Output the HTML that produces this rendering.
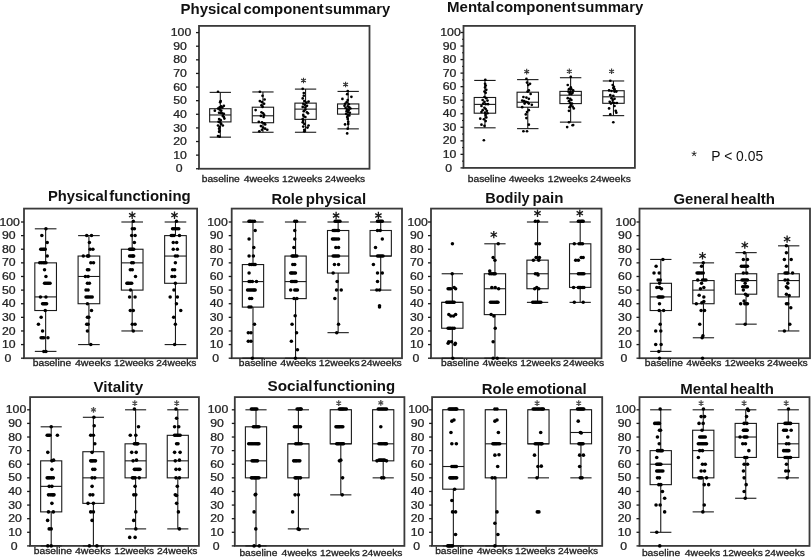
<!DOCTYPE html>
<html><head><meta charset="utf-8"><style>
html,body{margin:0;padding:0;background:#fff;}
svg{display:block;filter:grayscale(1) blur(0.3px);}
text{font-family:"Liberation Sans", sans-serif;fill:#111;}
.yl{font-size:10.4px;text-anchor:middle;fill:#222;stroke:#222;stroke-width:0.25px;}
.xl{font-size:9.3px;fill:#222;stroke:#222;stroke-width:0.3px;}
.ln{stroke:#1a1a1a;stroke-width:1.1;}
circle{fill:#000;}
</style></head><body>
<svg width="811" height="557" viewBox="0 0 811 557">
<rect width="811" height="557" fill="#fff"/>
<text x="180.5" y="13.7" font-size="15.4" font-weight="bold" textLength="60.8" lengthAdjust="spacingAndGlyphs">Physical</text>
<text x="243.4" y="13.7" font-size="15.4" font-weight="bold" textLength="80.3" lengthAdjust="spacingAndGlyphs">component</text>
<text x="324.8" y="13.7" font-size="15.4" font-weight="bold" textLength="65.3" lengthAdjust="spacingAndGlyphs">summary</text>
<rect x="199" y="25.9" width="170.5" height="142.85" fill="none" stroke="#3a3a3a" stroke-width="1.8"/>
<line x1="196" y1="168.75" x2="199" y2="168.75" stroke="#1a1a1a" stroke-width="1.3"/>
<text class="yl" transform="translate(179.2,172.35) scale(1.18,1)">0</text>
<line x1="196" y1="155.13" x2="199" y2="155.13" stroke="#1a1a1a" stroke-width="1.3"/>
<text class="yl" transform="translate(180.1,158.73) scale(1.18,1)">10</text>
<line x1="196" y1="141.52" x2="199" y2="141.52" stroke="#1a1a1a" stroke-width="1.3"/>
<text class="yl" transform="translate(180.1,145.12) scale(1.18,1)">20</text>
<line x1="196" y1="127.91" x2="199" y2="127.91" stroke="#1a1a1a" stroke-width="1.3"/>
<text class="yl" transform="translate(180.1,131.5) scale(1.18,1)">30</text>
<line x1="196" y1="114.29" x2="199" y2="114.29" stroke="#1a1a1a" stroke-width="1.3"/>
<text class="yl" transform="translate(180.1,117.89) scale(1.18,1)">40</text>
<line x1="196" y1="100.67" x2="199" y2="100.67" stroke="#1a1a1a" stroke-width="1.3"/>
<text class="yl" transform="translate(180.1,104.27) scale(1.18,1)">50</text>
<line x1="196" y1="87.06" x2="199" y2="87.06" stroke="#1a1a1a" stroke-width="1.3"/>
<text class="yl" transform="translate(180.1,90.66) scale(1.18,1)">60</text>
<line x1="196" y1="73.44" x2="199" y2="73.44" stroke="#1a1a1a" stroke-width="1.3"/>
<text class="yl" transform="translate(180.1,77.04) scale(1.18,1)">70</text>
<line x1="196" y1="59.83" x2="199" y2="59.83" stroke="#1a1a1a" stroke-width="1.3"/>
<text class="yl" transform="translate(180.1,63.43) scale(1.18,1)">80</text>
<line x1="196" y1="46.21" x2="199" y2="46.21" stroke="#1a1a1a" stroke-width="1.3"/>
<text class="yl" transform="translate(180.1,49.81) scale(1.18,1)">90</text>
<line x1="196" y1="32.6" x2="199" y2="32.6" stroke="#1a1a1a" stroke-width="1.3"/>
<text class="yl" transform="translate(181,36.2) scale(1.18,1)">100</text>
<text class="xl" transform="translate(201.7,181.5) scale(1,1.0)" textLength="38.1" lengthAdjust="spacingAndGlyphs">baseline</text>
<text class="xl" transform="translate(243.7,181.5) scale(1,1.0)" textLength="35.6" lengthAdjust="spacingAndGlyphs">4weeks</text>
<text class="xl" transform="translate(282.1,181.5) scale(1,1.0)" textLength="40.2" lengthAdjust="spacingAndGlyphs">12weeks</text>
<text class="xl" transform="translate(324.9,181.5) scale(1,1.0)" textLength="40.3" lengthAdjust="spacingAndGlyphs">24weeks</text>
<line x1="220.31" y1="92.37" x2="220.31" y2="137.16" class="ln"/>
<line x1="209.66" y1="92.37" x2="230.97" y2="92.37" class="ln"/>
<line x1="209.66" y1="137.16" x2="230.97" y2="137.16" class="ln"/>
<rect x="209.66" y="108.71" width="21.31" height="13.21" fill="#fff" class="ln"/>
<line x1="209.66" y1="114.97" x2="230.97" y2="114.97" class="ln"/>
<circle cx="218.03" cy="91.74" r="1.35"/>
<circle cx="220.68" cy="101.08" r="1.35"/>
<circle cx="220.15" cy="102.15" r="1.35"/>
<circle cx="223.86" cy="105.86" r="1.35"/>
<circle cx="221.21" cy="106.39" r="1.35"/>
<circle cx="219.62" cy="107.46" r="1.35"/>
<circle cx="222.27" cy="107.46" r="1.35"/>
<circle cx="218.03" cy="108.52" r="1.35"/>
<circle cx="219.62" cy="109.58" r="1.35"/>
<circle cx="221.21" cy="110.64" r="1.35"/>
<circle cx="214.85" cy="110.64" r="1.35"/>
<circle cx="219.09" cy="112.77" r="1.35"/>
<circle cx="220.68" cy="112.97" r="1.35"/>
<circle cx="222.27" cy="113.3" r="1.35"/>
<circle cx="223.86" cy="113.83" r="1.35"/>
<circle cx="222.8" cy="115.95" r="1.35"/>
<circle cx="223.86" cy="117.01" r="1.35"/>
<circle cx="224.39" cy="118.59" r="1.35"/>
<circle cx="219.09" cy="119.12" r="1.35"/>
<circle cx="220.68" cy="120.19" r="1.35"/>
<circle cx="218.56" cy="121.78" r="1.35"/>
<circle cx="220.15" cy="122.31" r="1.35"/>
<circle cx="221.21" cy="123.9" r="1.35"/>
<circle cx="222.8" cy="125.5" r="1.35"/>
<circle cx="218.03" cy="125.5" r="1.35"/>
<circle cx="219.62" cy="127.09" r="1.35"/>
<circle cx="219.09" cy="128.68" r="1.35"/>
<circle cx="219.62" cy="130.8" r="1.35"/>
<circle cx="219.09" cy="131.87" r="1.35"/>
<circle cx="218.03" cy="136.11" r="1.35"/>
<circle cx="219.62" cy="136.65" r="1.35"/>
<line x1="262.94" y1="91.96" x2="262.94" y2="132.26" class="ln"/>
<line x1="252.28" y1="91.96" x2="273.59" y2="91.96" class="ln"/>
<line x1="252.28" y1="132.26" x2="273.59" y2="132.26" class="ln"/>
<rect x="252.28" y="107.21" width="21.31" height="15.52" fill="#fff" class="ln"/>
<line x1="252.28" y1="115.79" x2="273.59" y2="115.79" class="ln"/>
<circle cx="259.86" cy="91.74" r="1.35"/>
<circle cx="262.52" cy="95.77" r="1.35"/>
<circle cx="264.64" cy="99.49" r="1.35"/>
<circle cx="259.86" cy="101.08" r="1.35"/>
<circle cx="261.99" cy="102.15" r="1.35"/>
<circle cx="264.11" cy="103.74" r="1.35"/>
<circle cx="261.46" cy="105.33" r="1.35"/>
<circle cx="262.52" cy="106.92" r="1.35"/>
<circle cx="255.62" cy="110.11" r="1.35"/>
<circle cx="261.46" cy="112.23" r="1.35"/>
<circle cx="263.05" cy="113.3" r="1.35"/>
<circle cx="264.11" cy="114.89" r="1.35"/>
<circle cx="260.93" cy="115.95" r="1.35"/>
<circle cx="263.58" cy="117.01" r="1.35"/>
<circle cx="258.8" cy="121.78" r="1.35"/>
<circle cx="261.99" cy="122.31" r="1.35"/>
<circle cx="264.11" cy="123.37" r="1.35"/>
<circle cx="265.17" cy="124.43" r="1.35"/>
<circle cx="260.93" cy="126.03" r="1.35"/>
<circle cx="263.05" cy="127.62" r="1.35"/>
<circle cx="265.17" cy="128.68" r="1.35"/>
<circle cx="267.29" cy="129.74" r="1.35"/>
<circle cx="261.99" cy="129.74" r="1.35"/>
<circle cx="259.33" cy="131.34" r="1.35"/>
<line x1="305.56" y1="89.1" x2="305.56" y2="132.26" class="ln"/>
<line x1="294.91" y1="89.1" x2="316.22" y2="89.1" class="ln"/>
<line x1="294.91" y1="132.26" x2="316.22" y2="132.26" class="ln"/>
<rect x="294.91" y="103.13" width="21.31" height="16.2" fill="#fff" class="ln"/>
<line x1="294.91" y1="109.12" x2="316.22" y2="109.12" class="ln"/>
<circle cx="302.72" cy="88.87" r="1.35"/>
<circle cx="303.78" cy="93.12" r="1.35"/>
<circle cx="303.78" cy="95.77" r="1.35"/>
<circle cx="302.72" cy="98.43" r="1.35"/>
<circle cx="304.31" cy="101.08" r="1.35"/>
<circle cx="308.55" cy="101.61" r="1.35"/>
<circle cx="306.43" cy="102.68" r="1.35"/>
<circle cx="303.25" cy="103.74" r="1.35"/>
<circle cx="304.84" cy="104.8" r="1.35"/>
<circle cx="306.96" cy="105.86" r="1.35"/>
<circle cx="302.72" cy="106.92" r="1.35"/>
<circle cx="305.37" cy="107.46" r="1.35"/>
<circle cx="305.37" cy="109.58" r="1.35"/>
<circle cx="303.78" cy="111.17" r="1.35"/>
<circle cx="306.96" cy="112.23" r="1.35"/>
<circle cx="308.02" cy="113.3" r="1.35"/>
<circle cx="303.25" cy="114.89" r="1.35"/>
<circle cx="303.78" cy="116.48" r="1.35"/>
<circle cx="305.37" cy="117.01" r="1.35"/>
<circle cx="302.72" cy="119.12" r="1.35"/>
<circle cx="303.25" cy="120.72" r="1.35"/>
<circle cx="302.72" cy="122.31" r="1.35"/>
<circle cx="304.31" cy="123.9" r="1.35"/>
<circle cx="303.25" cy="126.56" r="1.35"/>
<circle cx="308.55" cy="125.5" r="1.35"/>
<circle cx="307.49" cy="127.62" r="1.35"/>
<circle cx="304.31" cy="129.74" r="1.35"/>
<circle cx="304.31" cy="131.34" r="1.35"/>
<path d="M303.5 83.3L303.5 77.7M301.08 81.9L305.92 79.1M301.08 79.1L305.92 81.9" stroke="#333" stroke-width="1.1" fill="none"/>
<line x1="348.19" y1="91.42" x2="348.19" y2="128.86" class="ln"/>
<line x1="337.53" y1="91.42" x2="358.84" y2="91.42" class="ln"/>
<line x1="337.53" y1="128.86" x2="358.84" y2="128.86" class="ln"/>
<rect x="337.53" y="103.94" width="21.31" height="10.21" fill="#fff" class="ln"/>
<line x1="337.53" y1="108.71" x2="358.84" y2="108.71" class="ln"/>
<circle cx="347.71" cy="90.99" r="1.35"/>
<circle cx="347.18" cy="94.18" r="1.35"/>
<circle cx="351.42" cy="96.84" r="1.35"/>
<circle cx="342.41" cy="98.96" r="1.35"/>
<circle cx="347.71" cy="100.02" r="1.35"/>
<circle cx="346.65" cy="102.15" r="1.35"/>
<circle cx="345.06" cy="103.74" r="1.35"/>
<circle cx="348.77" cy="104.27" r="1.35"/>
<circle cx="344.53" cy="105.86" r="1.35"/>
<circle cx="347.71" cy="106.39" r="1.35"/>
<circle cx="349.3" cy="107.46" r="1.35"/>
<circle cx="345.59" cy="107.99" r="1.35"/>
<circle cx="350.36" cy="108.52" r="1.35"/>
<circle cx="347.18" cy="109.58" r="1.35"/>
<circle cx="348.77" cy="110.11" r="1.35"/>
<circle cx="346.65" cy="111.17" r="1.35"/>
<circle cx="348.24" cy="112.23" r="1.35"/>
<circle cx="349.83" cy="112.77" r="1.35"/>
<circle cx="346.12" cy="113.83" r="1.35"/>
<circle cx="347.71" cy="114.89" r="1.35"/>
<circle cx="349.3" cy="115.42" r="1.35"/>
<circle cx="347.18" cy="117.01" r="1.35"/>
<circle cx="347.71" cy="119.12" r="1.35"/>
<circle cx="348.24" cy="121.78" r="1.35"/>
<circle cx="345.06" cy="124.43" r="1.35"/>
<circle cx="348.24" cy="123.9" r="1.35"/>
<circle cx="347.71" cy="128.68" r="1.35"/>
<circle cx="347.18" cy="133.46" r="1.35"/>
<path d="M345.6 87.3L345.6 81.7M343.18 85.9L348.02 83.1M343.18 83.1L348.02 85.9" stroke="#333" stroke-width="1.1" fill="none"/>
<text x="447" y="11.8" font-size="15.4" font-weight="bold" textLength="47.6" lengthAdjust="spacingAndGlyphs">Mental</text>
<text x="495.7" y="11.8" font-size="15.4" font-weight="bold" textLength="80.2" lengthAdjust="spacingAndGlyphs">component</text>
<text x="577.1" y="11.8" font-size="15.4" font-weight="bold" textLength="66.1" lengthAdjust="spacingAndGlyphs">summary</text>
<rect x="463.5" y="25.9" width="171.4" height="142" fill="none" stroke="#3a3a3a" stroke-width="1.8"/>
<line x1="460.5" y1="167.9" x2="463.5" y2="167.9" stroke="#1a1a1a" stroke-width="1.3"/>
<text class="yl" transform="translate(448.7,171.5) scale(1.18,1)">0</text>
<line x1="462" y1="161.13" x2="463.5" y2="161.13" stroke="#1a1a1a" stroke-width="1"/>
<line x1="460.5" y1="154.36" x2="463.5" y2="154.36" stroke="#1a1a1a" stroke-width="1.3"/>
<text class="yl" transform="translate(449.6,157.96) scale(1.18,1)">10</text>
<line x1="462" y1="147.59" x2="463.5" y2="147.59" stroke="#1a1a1a" stroke-width="1"/>
<line x1="460.5" y1="140.82" x2="463.5" y2="140.82" stroke="#1a1a1a" stroke-width="1.3"/>
<text class="yl" transform="translate(449.6,144.42) scale(1.18,1)">20</text>
<line x1="462" y1="134.05" x2="463.5" y2="134.05" stroke="#1a1a1a" stroke-width="1"/>
<line x1="460.5" y1="127.28" x2="463.5" y2="127.28" stroke="#1a1a1a" stroke-width="1.3"/>
<text class="yl" transform="translate(449.6,130.88) scale(1.18,1)">30</text>
<line x1="462" y1="120.51" x2="463.5" y2="120.51" stroke="#1a1a1a" stroke-width="1"/>
<line x1="460.5" y1="113.74" x2="463.5" y2="113.74" stroke="#1a1a1a" stroke-width="1.3"/>
<text class="yl" transform="translate(449.6,117.34) scale(1.18,1)">40</text>
<line x1="462" y1="106.97" x2="463.5" y2="106.97" stroke="#1a1a1a" stroke-width="1"/>
<line x1="460.5" y1="100.2" x2="463.5" y2="100.2" stroke="#1a1a1a" stroke-width="1.3"/>
<text class="yl" transform="translate(449.6,103.8) scale(1.18,1)">50</text>
<line x1="462" y1="93.43" x2="463.5" y2="93.43" stroke="#1a1a1a" stroke-width="1"/>
<line x1="460.5" y1="86.66" x2="463.5" y2="86.66" stroke="#1a1a1a" stroke-width="1.3"/>
<text class="yl" transform="translate(449.6,90.26) scale(1.18,1)">60</text>
<line x1="462" y1="79.89" x2="463.5" y2="79.89" stroke="#1a1a1a" stroke-width="1"/>
<line x1="460.5" y1="73.12" x2="463.5" y2="73.12" stroke="#1a1a1a" stroke-width="1.3"/>
<text class="yl" transform="translate(449.6,76.72) scale(1.18,1)">70</text>
<line x1="462" y1="66.35" x2="463.5" y2="66.35" stroke="#1a1a1a" stroke-width="1"/>
<line x1="460.5" y1="59.58" x2="463.5" y2="59.58" stroke="#1a1a1a" stroke-width="1.3"/>
<text class="yl" transform="translate(449.6,63.18) scale(1.18,1)">80</text>
<line x1="462" y1="52.81" x2="463.5" y2="52.81" stroke="#1a1a1a" stroke-width="1"/>
<line x1="460.5" y1="46.04" x2="463.5" y2="46.04" stroke="#1a1a1a" stroke-width="1.3"/>
<text class="yl" transform="translate(449.6,49.64) scale(1.18,1)">90</text>
<line x1="462" y1="39.27" x2="463.5" y2="39.27" stroke="#1a1a1a" stroke-width="1"/>
<line x1="460.5" y1="32.5" x2="463.5" y2="32.5" stroke="#1a1a1a" stroke-width="1.3"/>
<text class="yl" transform="translate(450.5,36.1) scale(1.18,1)">100</text>
<text class="xl" transform="translate(467.8,181.5) scale(1,1.0)" textLength="38.1" lengthAdjust="spacingAndGlyphs">baseline</text>
<text class="xl" transform="translate(508.7,181.5) scale(1,1.0)" textLength="35.6" lengthAdjust="spacingAndGlyphs">4weeks</text>
<text class="xl" transform="translate(547.7,181.5) scale(1,1.0)" textLength="40.3" lengthAdjust="spacingAndGlyphs">12weeks</text>
<text class="xl" transform="translate(590.3,181.5) scale(1,1.0)" textLength="40.5" lengthAdjust="spacingAndGlyphs">24weeks</text>
<line x1="484.93" y1="80.43" x2="484.93" y2="127.82" class="ln"/>
<line x1="474.21" y1="80.43" x2="495.64" y2="80.43" class="ln"/>
<line x1="474.21" y1="127.82" x2="495.64" y2="127.82" class="ln"/>
<rect x="474.21" y="97.49" width="21.42" height="15.71" fill="#fff" class="ln"/>
<line x1="474.21" y1="104.4" x2="495.64" y2="104.4" class="ln"/>
<circle cx="485.31" cy="79.81" r="1.35"/>
<circle cx="485.06" cy="83.78" r="1.35"/>
<circle cx="485.68" cy="85.58" r="1.35"/>
<circle cx="485.06" cy="87.39" r="1.35"/>
<circle cx="486.28" cy="89.79" r="1.35"/>
<circle cx="484.47" cy="91.59" r="1.35"/>
<circle cx="485.68" cy="92.79" r="1.35"/>
<circle cx="484.47" cy="97" r="1.35"/>
<circle cx="486.28" cy="98.21" r="1.35"/>
<circle cx="482.67" cy="100.01" r="1.35"/>
<circle cx="487.48" cy="100.61" r="1.35"/>
<circle cx="484.47" cy="101.81" r="1.35"/>
<circle cx="483.26" cy="103.61" r="1.35"/>
<circle cx="485.68" cy="104.21" r="1.35"/>
<circle cx="488.07" cy="104.21" r="1.35"/>
<circle cx="481.47" cy="106.02" r="1.35"/>
<circle cx="484.47" cy="107.82" r="1.35"/>
<circle cx="485.68" cy="109.01" r="1.35"/>
<circle cx="482.67" cy="110.22" r="1.35"/>
<circle cx="486.88" cy="110.83" r="1.35"/>
<circle cx="481.47" cy="112.02" r="1.35"/>
<circle cx="485.06" cy="112.63" r="1.35"/>
<circle cx="487.48" cy="113.23" r="1.35"/>
<circle cx="485.68" cy="115.03" r="1.35"/>
<circle cx="486.28" cy="117.44" r="1.35"/>
<circle cx="480.25" cy="118.64" r="1.35"/>
<circle cx="483.87" cy="119.24" r="1.35"/>
<circle cx="485.68" cy="121.04" r="1.35"/>
<circle cx="481.47" cy="124.64" r="1.35"/>
<circle cx="484.47" cy="125.84" r="1.35"/>
<circle cx="483.87" cy="140.26" r="1.35"/>
<line x1="527.77" y1="79.62" x2="527.77" y2="128.63" class="ln"/>
<line x1="517.06" y1="79.62" x2="538.49" y2="79.62" class="ln"/>
<line x1="517.06" y1="128.63" x2="538.49" y2="128.63" class="ln"/>
<rect x="517.06" y="92.21" width="21.42" height="15.03" fill="#fff" class="ln"/>
<line x1="517.06" y1="102.23" x2="538.49" y2="102.23" class="ln"/>
<circle cx="526.41" cy="78.97" r="1.35"/>
<circle cx="527.01" cy="82.58" r="1.35"/>
<circle cx="530.02" cy="83.78" r="1.35"/>
<circle cx="528.23" cy="84.98" r="1.35"/>
<circle cx="528.82" cy="90.4" r="1.35"/>
<circle cx="527.62" cy="91.59" r="1.35"/>
<circle cx="530.62" cy="94" r="1.35"/>
<circle cx="523.4" cy="97" r="1.35"/>
<circle cx="526.41" cy="97.6" r="1.35"/>
<circle cx="528.82" cy="98.81" r="1.35"/>
<circle cx="522.2" cy="100.61" r="1.35"/>
<circle cx="524.01" cy="101.2" r="1.35"/>
<circle cx="525.81" cy="101.81" r="1.35"/>
<circle cx="527.62" cy="102.41" r="1.35"/>
<circle cx="524.62" cy="103.61" r="1.35"/>
<circle cx="528.82" cy="103.61" r="1.35"/>
<circle cx="531.82" cy="104.82" r="1.35"/>
<circle cx="522.2" cy="107.21" r="1.35"/>
<circle cx="528.82" cy="110.22" r="1.35"/>
<circle cx="527.01" cy="112.02" r="1.35"/>
<circle cx="525.81" cy="114.43" r="1.35"/>
<circle cx="526.41" cy="118.03" r="1.35"/>
<circle cx="528.82" cy="124.64" r="1.35"/>
<circle cx="523.4" cy="131.26" r="1.35"/>
<circle cx="527.01" cy="131.26" r="1.35"/>
<path d="M526.7 74.4L526.7 68.8M524.28 73L529.12 70.2M524.28 70.2L529.12 73" stroke="#333" stroke-width="1.1" fill="none"/>
<line x1="570.62" y1="77.72" x2="570.62" y2="122.13" class="ln"/>
<line x1="559.91" y1="77.72" x2="581.34" y2="77.72" class="ln"/>
<line x1="559.91" y1="122.13" x2="581.34" y2="122.13" class="ln"/>
<rect x="559.91" y="91.4" width="21.42" height="12.19" fill="#fff" class="ln"/>
<line x1="559.91" y1="95.19" x2="581.34" y2="95.19" class="ln"/>
<circle cx="570.76" cy="76.92" r="1.35"/>
<circle cx="567.76" cy="84.98" r="1.35"/>
<circle cx="570.76" cy="87.39" r="1.35"/>
<circle cx="568.97" cy="89.19" r="1.35"/>
<circle cx="571.38" cy="89.19" r="1.35"/>
<circle cx="573.17" cy="90.4" r="1.35"/>
<circle cx="568.37" cy="91.59" r="1.35"/>
<circle cx="570.16" cy="92.2" r="1.35"/>
<circle cx="572.58" cy="92.79" r="1.35"/>
<circle cx="569.57" cy="94" r="1.35"/>
<circle cx="571.38" cy="94" r="1.35"/>
<circle cx="567.76" cy="98.21" r="1.35"/>
<circle cx="570.16" cy="98.81" r="1.35"/>
<circle cx="571.38" cy="100.01" r="1.35"/>
<circle cx="568.97" cy="101.2" r="1.35"/>
<circle cx="570.16" cy="103.02" r="1.35"/>
<circle cx="571.98" cy="103.61" r="1.35"/>
<circle cx="570.76" cy="105.41" r="1.35"/>
<circle cx="572.58" cy="106.62" r="1.35"/>
<circle cx="569.57" cy="107.21" r="1.35"/>
<circle cx="573.77" cy="108.42" r="1.35"/>
<circle cx="568.97" cy="110.83" r="1.35"/>
<circle cx="568.97" cy="122.24" r="1.35"/>
<circle cx="567.16" cy="127.05" r="1.35"/>
<circle cx="572.58" cy="125.25" r="1.35"/>
<circle cx="573.17" cy="125.01" r="1.35"/>
<path d="M569.3 74.1L569.3 68.5M566.88 72.7L571.72 69.9M566.88 69.9L571.72 72.7" stroke="#333" stroke-width="1.1" fill="none"/>
<line x1="613.47" y1="80.97" x2="613.47" y2="115.64" class="ln"/>
<line x1="602.76" y1="80.97" x2="624.19" y2="80.97" class="ln"/>
<line x1="602.76" y1="115.64" x2="624.19" y2="115.64" class="ln"/>
<rect x="602.76" y="90.72" width="21.42" height="12.59" fill="#fff" class="ln"/>
<line x1="602.76" y1="96.81" x2="624.19" y2="96.81" class="ln"/>
<circle cx="610.31" cy="80.77" r="1.35"/>
<circle cx="612.71" cy="84.98" r="1.35"/>
<circle cx="613.92" cy="86.78" r="1.35"/>
<circle cx="613.31" cy="87.99" r="1.35"/>
<circle cx="614.52" cy="89.19" r="1.35"/>
<circle cx="609.1" cy="90.4" r="1.35"/>
<circle cx="611.51" cy="90.99" r="1.35"/>
<circle cx="614.52" cy="91.59" r="1.35"/>
<circle cx="616.32" cy="91.59" r="1.35"/>
<circle cx="610.31" cy="95.2" r="1.35"/>
<circle cx="613.31" cy="95.8" r="1.35"/>
<circle cx="611.51" cy="98.21" r="1.35"/>
<circle cx="614.52" cy="98.81" r="1.35"/>
<circle cx="612.71" cy="100.01" r="1.35"/>
<circle cx="609.71" cy="101.81" r="1.35"/>
<circle cx="612.71" cy="102.41" r="1.35"/>
<circle cx="610.91" cy="103.61" r="1.35"/>
<circle cx="614.52" cy="103.02" r="1.35"/>
<circle cx="616.92" cy="103.02" r="1.35"/>
<circle cx="614.52" cy="106.02" r="1.35"/>
<circle cx="609.1" cy="108.42" r="1.35"/>
<circle cx="615.72" cy="110.83" r="1.35"/>
<circle cx="616.32" cy="112.63" r="1.35"/>
<circle cx="610.31" cy="114.43" r="1.35"/>
<circle cx="613.31" cy="122.24" r="1.35"/>
<path d="M611.6 74.1L611.6 68.5M609.18 72.7L614.02 69.9M609.18 69.9L614.02 72.7" stroke="#333" stroke-width="1.1" fill="none"/>
<text x="47.9" y="201.1" font-size="15.4" font-weight="bold" textLength="60" lengthAdjust="spacingAndGlyphs">Physical</text>
<text x="109.2" y="201.1" font-size="15.4" font-weight="bold" textLength="81.5" lengthAdjust="spacingAndGlyphs">functioning</text>
<rect x="24" y="208.6" width="173.1" height="149.6" fill="none" stroke="#3a3a3a" stroke-width="1.8"/>
<line x1="21" y1="358.2" x2="24" y2="358.2" stroke="#1a1a1a" stroke-width="1.3"/>
<text class="yl" transform="translate(7.9,361.8) scale(1.18,1)">0</text>
<line x1="21" y1="344.58" x2="24" y2="344.58" stroke="#1a1a1a" stroke-width="1.3"/>
<text class="yl" transform="translate(8.8,348.18) scale(1.18,1)">10</text>
<line x1="21" y1="330.96" x2="24" y2="330.96" stroke="#1a1a1a" stroke-width="1.3"/>
<text class="yl" transform="translate(8.8,334.56) scale(1.18,1)">20</text>
<line x1="21" y1="317.34" x2="24" y2="317.34" stroke="#1a1a1a" stroke-width="1.3"/>
<text class="yl" transform="translate(8.8,320.94) scale(1.18,1)">30</text>
<line x1="21" y1="303.72" x2="24" y2="303.72" stroke="#1a1a1a" stroke-width="1.3"/>
<text class="yl" transform="translate(8.8,307.32) scale(1.18,1)">40</text>
<line x1="21" y1="290.1" x2="24" y2="290.1" stroke="#1a1a1a" stroke-width="1.3"/>
<text class="yl" transform="translate(8.8,293.7) scale(1.18,1)">50</text>
<line x1="21" y1="276.48" x2="24" y2="276.48" stroke="#1a1a1a" stroke-width="1.3"/>
<text class="yl" transform="translate(8.8,280.08) scale(1.18,1)">60</text>
<line x1="21" y1="262.86" x2="24" y2="262.86" stroke="#1a1a1a" stroke-width="1.3"/>
<text class="yl" transform="translate(8.8,266.46) scale(1.18,1)">70</text>
<line x1="21" y1="249.24" x2="24" y2="249.24" stroke="#1a1a1a" stroke-width="1.3"/>
<text class="yl" transform="translate(8.8,252.84) scale(1.18,1)">80</text>
<line x1="21" y1="235.62" x2="24" y2="235.62" stroke="#1a1a1a" stroke-width="1.3"/>
<text class="yl" transform="translate(8.8,239.22) scale(1.18,1)">90</text>
<line x1="21" y1="222" x2="24" y2="222" stroke="#1a1a1a" stroke-width="1.3"/>
<text class="yl" transform="translate(9.7,225.6) scale(1.18,1)">100</text>
<text class="xl" transform="translate(32.7,365.7) scale(1,1.07)" textLength="38.5" lengthAdjust="spacingAndGlyphs">baseline</text>
<text class="xl" transform="translate(74.9,365.7) scale(1,1.07)" textLength="36.1" lengthAdjust="spacingAndGlyphs">4weeks</text>
<text class="xl" transform="translate(114,365.7) scale(1,1.07)" textLength="39.8" lengthAdjust="spacingAndGlyphs">12weeks</text>
<text class="xl" transform="translate(156.2,365.7) scale(1,1.07)" textLength="40.2" lengthAdjust="spacingAndGlyphs">24weeks</text>
<line x1="45.64" y1="228.81" x2="45.64" y2="351.39" class="ln"/>
<line x1="34.82" y1="228.81" x2="56.46" y2="228.81" class="ln"/>
<line x1="34.82" y1="351.39" x2="56.46" y2="351.39" class="ln"/>
<rect x="34.82" y="262.86" width="21.64" height="47.67" fill="#fff" class="ln"/>
<line x1="34.82" y1="296.91" x2="56.46" y2="296.91" class="ln"/>
<circle cx="45.94" cy="228.81" r="1.75"/>
<circle cx="41.84" cy="235.62" r="1.75"/>
<circle cx="47.24" cy="242.43" r="1.75"/>
<circle cx="40.74" cy="249.24" r="1.75"/>
<circle cx="43.14" cy="249.24" r="1.75"/>
<circle cx="45.24" cy="249.24" r="1.75"/>
<circle cx="47.24" cy="256.05" r="1.75"/>
<circle cx="39.74" cy="262.86" r="1.75"/>
<circle cx="43.14" cy="262.86" r="1.75"/>
<circle cx="45.94" cy="262.86" r="1.75"/>
<circle cx="44.54" cy="269.67" r="1.75"/>
<circle cx="45.94" cy="276.48" r="1.75"/>
<circle cx="44.54" cy="283.29" r="1.75"/>
<circle cx="47.24" cy="283.29" r="1.75"/>
<circle cx="50.04" cy="283.29" r="1.75"/>
<circle cx="40.44" cy="296.91" r="1.75"/>
<circle cx="45.94" cy="296.91" r="1.75"/>
<circle cx="42.54" cy="303.72" r="1.75"/>
<circle cx="44.54" cy="303.72" r="1.75"/>
<circle cx="46.64" cy="303.72" r="1.75"/>
<circle cx="45.24" cy="310.53" r="1.75"/>
<circle cx="41.14" cy="317.34" r="1.75"/>
<circle cx="38.44" cy="324.15" r="1.75"/>
<circle cx="42.54" cy="330.96" r="1.75"/>
<circle cx="41.14" cy="337.77" r="1.75"/>
<circle cx="43.84" cy="337.77" r="1.75"/>
<circle cx="47.94" cy="337.77" r="1.75"/>
<circle cx="43.84" cy="351.39" r="1.75"/>
<circle cx="45.94" cy="351.39" r="1.75"/>
<circle cx="41.94" cy="249.24" r="1.75"/>
<circle cx="44.19" cy="249.24" r="1.75"/>
<circle cx="41.44" cy="262.86" r="1.75"/>
<circle cx="44.54" cy="262.86" r="1.75"/>
<circle cx="45.89" cy="283.29" r="1.75"/>
<circle cx="48.64" cy="283.29" r="1.75"/>
<circle cx="43.54" cy="303.72" r="1.75"/>
<circle cx="45.59" cy="303.72" r="1.75"/>
<circle cx="42.49" cy="337.77" r="1.75"/>
<line x1="88.91" y1="235.62" x2="88.91" y2="344.58" class="ln"/>
<line x1="78.09" y1="235.62" x2="99.73" y2="235.62" class="ln"/>
<line x1="78.09" y1="344.58" x2="99.73" y2="344.58" class="ln"/>
<rect x="78.09" y="256.05" width="21.64" height="47.67" fill="#fff" class="ln"/>
<line x1="78.09" y1="276.48" x2="99.73" y2="276.48" class="ln"/>
<circle cx="86.71" cy="235.62" r="1.75"/>
<circle cx="91.51" cy="235.62" r="1.75"/>
<circle cx="89.41" cy="242.43" r="1.75"/>
<circle cx="90.11" cy="249.24" r="1.75"/>
<circle cx="92.91" cy="249.24" r="1.75"/>
<circle cx="83.31" cy="256.05" r="1.75"/>
<circle cx="87.41" cy="256.05" r="1.75"/>
<circle cx="88.81" cy="256.05" r="1.75"/>
<circle cx="90.81" cy="262.86" r="1.75"/>
<circle cx="93.51" cy="262.86" r="1.75"/>
<circle cx="87.41" cy="269.67" r="1.75"/>
<circle cx="88.81" cy="269.67" r="1.75"/>
<circle cx="85.41" cy="276.48" r="1.75"/>
<circle cx="88.11" cy="276.48" r="1.75"/>
<circle cx="87.41" cy="283.29" r="1.75"/>
<circle cx="89.41" cy="283.29" r="1.75"/>
<circle cx="86.01" cy="290.1" r="1.75"/>
<circle cx="88.11" cy="290.1" r="1.75"/>
<circle cx="86.01" cy="296.91" r="1.75"/>
<circle cx="88.81" cy="296.91" r="1.75"/>
<circle cx="92.21" cy="296.91" r="1.75"/>
<circle cx="87.41" cy="303.72" r="1.75"/>
<circle cx="91.51" cy="310.53" r="1.75"/>
<circle cx="87.41" cy="317.34" r="1.75"/>
<circle cx="88.81" cy="317.34" r="1.75"/>
<circle cx="86.71" cy="324.15" r="1.75"/>
<circle cx="88.11" cy="324.15" r="1.75"/>
<circle cx="87.41" cy="330.96" r="1.75"/>
<circle cx="90.81" cy="344.58" r="1.75"/>
<circle cx="88.11" cy="256.05" r="1.75"/>
<circle cx="87.41" cy="296.91" r="1.75"/>
<circle cx="90.51" cy="296.91" r="1.75"/>
<line x1="132.19" y1="222" x2="132.19" y2="330.96" class="ln"/>
<line x1="121.37" y1="222" x2="143.01" y2="222" class="ln"/>
<line x1="121.37" y1="330.96" x2="143.01" y2="330.96" class="ln"/>
<rect x="121.37" y="249.24" width="21.64" height="40.86" fill="#fff" class="ln"/>
<line x1="121.37" y1="262.86" x2="143.01" y2="262.86" class="ln"/>
<circle cx="133.29" cy="221.25" r="1.75"/>
<circle cx="132.29" cy="228.81" r="1.75"/>
<circle cx="134.39" cy="228.81" r="1.75"/>
<circle cx="131.69" cy="235.62" r="1.75"/>
<circle cx="135.09" cy="235.62" r="1.75"/>
<circle cx="134.39" cy="242.43" r="1.75"/>
<circle cx="129.59" cy="249.24" r="1.75"/>
<circle cx="131.69" cy="249.24" r="1.75"/>
<circle cx="133.69" cy="249.24" r="1.75"/>
<circle cx="129.59" cy="256.05" r="1.75"/>
<circle cx="132.29" cy="256.05" r="1.75"/>
<circle cx="133.69" cy="256.05" r="1.75"/>
<circle cx="131.69" cy="262.86" r="1.75"/>
<circle cx="133.29" cy="262.86" r="1.75"/>
<circle cx="130.29" cy="269.67" r="1.75"/>
<circle cx="132.29" cy="269.67" r="1.75"/>
<circle cx="135.49" cy="276.48" r="1.75"/>
<circle cx="126.89" cy="283.29" r="1.75"/>
<circle cx="128.89" cy="283.29" r="1.75"/>
<circle cx="131.69" cy="283.29" r="1.75"/>
<circle cx="130.59" cy="290.1" r="1.75"/>
<circle cx="129.59" cy="296.91" r="1.75"/>
<circle cx="135.09" cy="296.91" r="1.75"/>
<circle cx="130.29" cy="310.53" r="1.75"/>
<circle cx="133.29" cy="310.53" r="1.75"/>
<circle cx="132.29" cy="324.15" r="1.75"/>
<circle cx="135.09" cy="324.15" r="1.75"/>
<circle cx="133.29" cy="330.96" r="1.75"/>
<circle cx="130.64" cy="249.24" r="1.75"/>
<circle cx="132.69" cy="249.24" r="1.75"/>
<circle cx="130.94" cy="256.05" r="1.75"/>
<circle cx="132.99" cy="256.05" r="1.75"/>
<circle cx="127.89" cy="283.29" r="1.75"/>
<circle cx="130.29" cy="283.29" r="1.75"/>
<path d="M132.2 218.9L132.2 211.5M129 217.05L135.4 213.35M129 213.35L135.4 217.05" stroke="#1a1a1a" stroke-width="1.3" fill="none"/>
<line x1="175.46" y1="222" x2="175.46" y2="344.58" class="ln"/>
<line x1="164.64" y1="222" x2="186.28" y2="222" class="ln"/>
<line x1="164.64" y1="344.58" x2="186.28" y2="344.58" class="ln"/>
<rect x="164.64" y="235.62" width="21.64" height="47.67" fill="#fff" class="ln"/>
<line x1="164.64" y1="256.05" x2="186.28" y2="256.05" class="ln"/>
<circle cx="176.46" cy="221.25" r="1.75"/>
<circle cx="172.56" cy="228.81" r="1.75"/>
<circle cx="175.36" cy="228.81" r="1.75"/>
<circle cx="178.76" cy="228.81" r="1.75"/>
<circle cx="171.26" cy="235.62" r="1.75"/>
<circle cx="173.96" cy="235.62" r="1.75"/>
<circle cx="179.46" cy="235.62" r="1.75"/>
<circle cx="173.26" cy="242.43" r="1.75"/>
<circle cx="176.66" cy="242.43" r="1.75"/>
<circle cx="173.26" cy="249.24" r="1.75"/>
<circle cx="177.36" cy="249.24" r="1.75"/>
<circle cx="175.36" cy="256.05" r="1.75"/>
<circle cx="177.36" cy="256.05" r="1.75"/>
<circle cx="175.36" cy="262.86" r="1.75"/>
<circle cx="172.56" cy="269.67" r="1.75"/>
<circle cx="174.66" cy="269.67" r="1.75"/>
<circle cx="171.96" cy="276.48" r="1.75"/>
<circle cx="174.66" cy="276.48" r="1.75"/>
<circle cx="175.36" cy="283.29" r="1.75"/>
<circle cx="173.96" cy="290.1" r="1.75"/>
<circle cx="170.16" cy="296.91" r="1.75"/>
<circle cx="177.36" cy="296.91" r="1.75"/>
<circle cx="176.46" cy="303.72" r="1.75"/>
<circle cx="180.76" cy="310.53" r="1.75"/>
<circle cx="173.66" cy="317.34" r="1.75"/>
<circle cx="175.36" cy="324.15" r="1.75"/>
<circle cx="174.66" cy="344.58" r="1.75"/>
<circle cx="173.96" cy="228.81" r="1.75"/>
<circle cx="177.06" cy="228.81" r="1.75"/>
<circle cx="172.61" cy="235.62" r="1.75"/>
<path d="M174.5 218.9L174.5 211.5M171.3 217.05L177.7 213.35M171.3 213.35L177.7 217.05" stroke="#1a1a1a" stroke-width="1.3" fill="none"/>
<text x="271.4" y="203.5" font-size="15.4" font-weight="bold" textLength="31.6" lengthAdjust="spacingAndGlyphs">Role</text>
<text x="305.8" y="203.5" font-size="15.4" font-weight="bold" textLength="60.3" lengthAdjust="spacingAndGlyphs">physical</text>
<rect x="231.7" y="208.6" width="170.3" height="149.6" fill="none" stroke="#3a3a3a" stroke-width="1.8"/>
<line x1="228.7" y1="358.2" x2="231.7" y2="358.2" stroke="#1a1a1a" stroke-width="1.3"/>
<text class="yl" transform="translate(215.7,361.8) scale(1.18,1)">0</text>
<line x1="228.7" y1="344.58" x2="231.7" y2="344.58" stroke="#1a1a1a" stroke-width="1.3"/>
<text class="yl" transform="translate(216.6,348.18) scale(1.18,1)">10</text>
<line x1="228.7" y1="330.96" x2="231.7" y2="330.96" stroke="#1a1a1a" stroke-width="1.3"/>
<text class="yl" transform="translate(216.6,334.56) scale(1.18,1)">20</text>
<line x1="228.7" y1="317.34" x2="231.7" y2="317.34" stroke="#1a1a1a" stroke-width="1.3"/>
<text class="yl" transform="translate(216.6,320.94) scale(1.18,1)">30</text>
<line x1="228.7" y1="303.72" x2="231.7" y2="303.72" stroke="#1a1a1a" stroke-width="1.3"/>
<text class="yl" transform="translate(216.6,307.32) scale(1.18,1)">40</text>
<line x1="228.7" y1="290.1" x2="231.7" y2="290.1" stroke="#1a1a1a" stroke-width="1.3"/>
<text class="yl" transform="translate(216.6,293.7) scale(1.18,1)">50</text>
<line x1="228.7" y1="276.48" x2="231.7" y2="276.48" stroke="#1a1a1a" stroke-width="1.3"/>
<text class="yl" transform="translate(216.6,280.08) scale(1.18,1)">60</text>
<line x1="228.7" y1="262.86" x2="231.7" y2="262.86" stroke="#1a1a1a" stroke-width="1.3"/>
<text class="yl" transform="translate(216.6,266.46) scale(1.18,1)">70</text>
<line x1="228.7" y1="249.24" x2="231.7" y2="249.24" stroke="#1a1a1a" stroke-width="1.3"/>
<text class="yl" transform="translate(216.6,252.84) scale(1.18,1)">80</text>
<line x1="228.7" y1="235.62" x2="231.7" y2="235.62" stroke="#1a1a1a" stroke-width="1.3"/>
<text class="yl" transform="translate(216.6,239.22) scale(1.18,1)">90</text>
<line x1="228.7" y1="222" x2="231.7" y2="222" stroke="#1a1a1a" stroke-width="1.3"/>
<text class="yl" transform="translate(217.5,225.6) scale(1.18,1)">100</text>
<text class="xl" transform="translate(238.8,365.7) scale(1,1.07)" textLength="38.1" lengthAdjust="spacingAndGlyphs">baseline</text>
<text class="xl" transform="translate(280.3,365.7) scale(1,1.07)" textLength="36.1" lengthAdjust="spacingAndGlyphs">4weeks</text>
<text class="xl" transform="translate(318.7,365.7) scale(1,1.07)" textLength="41" lengthAdjust="spacingAndGlyphs">12weeks</text>
<text class="xl" transform="translate(360.9,365.7) scale(1,1.07)" textLength="40.9" lengthAdjust="spacingAndGlyphs">24weeks</text>
<line x1="252.99" y1="222" x2="252.99" y2="358.2" class="ln"/>
<line x1="242.34" y1="222" x2="263.63" y2="222" class="ln"/>
<line x1="242.34" y1="358.2" x2="263.63" y2="358.2" class="ln"/>
<rect x="242.34" y="264.56" width="21.29" height="42.56" fill="#fff" class="ln"/>
<line x1="242.34" y1="281.59" x2="263.63" y2="281.59" class="ln"/>
<circle cx="248.99" cy="221.25" r="1.75"/>
<circle cx="251.09" cy="221.25" r="1.75"/>
<circle cx="254.49" cy="221.25" r="1.75"/>
<circle cx="255.19" cy="230.51" r="1.75"/>
<circle cx="249.09" cy="239.03" r="1.75"/>
<circle cx="253.79" cy="247.54" r="1.75"/>
<circle cx="249.09" cy="256.05" r="1.75"/>
<circle cx="253.39" cy="256.05" r="1.75"/>
<circle cx="249.69" cy="264.56" r="1.75"/>
<circle cx="253.09" cy="264.56" r="1.75"/>
<circle cx="255.19" cy="264.56" r="1.75"/>
<circle cx="249.09" cy="273.07" r="1.75"/>
<circle cx="249.09" cy="281.59" r="1.75"/>
<circle cx="252.39" cy="281.59" r="1.75"/>
<circle cx="256.49" cy="281.59" r="1.75"/>
<circle cx="247.59" cy="290.1" r="1.75"/>
<circle cx="250.39" cy="290.1" r="1.75"/>
<circle cx="253.09" cy="290.1" r="1.75"/>
<circle cx="255.19" cy="290.1" r="1.75"/>
<circle cx="249.69" cy="298.61" r="1.75"/>
<circle cx="251.69" cy="298.61" r="1.75"/>
<circle cx="248.99" cy="307.12" r="1.75"/>
<circle cx="250.99" cy="307.12" r="1.75"/>
<circle cx="254.49" cy="324.15" r="1.75"/>
<circle cx="248.29" cy="332.66" r="1.75"/>
<circle cx="250.99" cy="332.66" r="1.75"/>
<circle cx="248.29" cy="341.18" r="1.75"/>
<circle cx="250.99" cy="341.18" r="1.75"/>
<circle cx="252.39" cy="358.2" r="1.75"/>
<circle cx="250.04" cy="221.25" r="1.75"/>
<circle cx="252.79" cy="221.25" r="1.75"/>
<circle cx="251.39" cy="264.56" r="1.75"/>
<circle cx="254.14" cy="264.56" r="1.75"/>
<circle cx="250.74" cy="281.59" r="1.75"/>
<circle cx="248.99" cy="290.1" r="1.75"/>
<circle cx="251.74" cy="290.1" r="1.75"/>
<circle cx="254.14" cy="290.1" r="1.75"/>
<line x1="295.56" y1="222" x2="295.56" y2="358.2" class="ln"/>
<line x1="284.92" y1="222" x2="306.21" y2="222" class="ln"/>
<line x1="284.92" y1="358.2" x2="306.21" y2="358.2" class="ln"/>
<rect x="284.92" y="256.05" width="21.29" height="42.56" fill="#fff" class="ln"/>
<line x1="284.92" y1="281.59" x2="306.21" y2="281.59" class="ln"/>
<circle cx="294.76" cy="221.25" r="1.75"/>
<circle cx="296.56" cy="221.25" r="1.75"/>
<circle cx="294.76" cy="230.51" r="1.75"/>
<circle cx="294.76" cy="239.03" r="1.75"/>
<circle cx="293.86" cy="247.54" r="1.75"/>
<circle cx="292.06" cy="256.05" r="1.75"/>
<circle cx="294.06" cy="256.05" r="1.75"/>
<circle cx="296.86" cy="256.05" r="1.75"/>
<circle cx="292.76" cy="264.56" r="1.75"/>
<circle cx="294.76" cy="264.56" r="1.75"/>
<circle cx="290.66" cy="273.07" r="1.75"/>
<circle cx="292.76" cy="273.07" r="1.75"/>
<circle cx="295.46" cy="273.07" r="1.75"/>
<circle cx="291.36" cy="281.59" r="1.75"/>
<circle cx="294.06" cy="281.59" r="1.75"/>
<circle cx="296.16" cy="281.59" r="1.75"/>
<circle cx="290.66" cy="290.1" r="1.75"/>
<circle cx="294.76" cy="290.1" r="1.75"/>
<circle cx="297.46" cy="290.1" r="1.75"/>
<circle cx="294.06" cy="298.61" r="1.75"/>
<circle cx="296.86" cy="298.61" r="1.75"/>
<circle cx="295.16" cy="315.64" r="1.75"/>
<circle cx="292.06" cy="324.15" r="1.75"/>
<circle cx="296.56" cy="332.66" r="1.75"/>
<circle cx="291.36" cy="341.18" r="1.75"/>
<circle cx="297.46" cy="349.69" r="1.75"/>
<circle cx="295.46" cy="358.2" r="1.75"/>
<circle cx="293.06" cy="256.05" r="1.75"/>
<circle cx="295.46" cy="256.05" r="1.75"/>
<circle cx="291.71" cy="273.07" r="1.75"/>
<circle cx="294.11" cy="273.07" r="1.75"/>
<circle cx="292.71" cy="281.59" r="1.75"/>
<circle cx="295.11" cy="281.59" r="1.75"/>
<circle cx="296.11" cy="290.1" r="1.75"/>
<line x1="338.14" y1="222" x2="338.14" y2="332.66" class="ln"/>
<line x1="327.49" y1="222" x2="348.78" y2="222" class="ln"/>
<line x1="327.49" y1="332.66" x2="348.78" y2="332.66" class="ln"/>
<rect x="327.49" y="230.51" width="21.29" height="42.56" fill="#fff" class="ln"/>
<line x1="327.49" y1="256.05" x2="348.78" y2="256.05" class="ln"/>
<circle cx="335.14" cy="221.25" r="1.75"/>
<circle cx="337.14" cy="221.25" r="1.75"/>
<circle cx="339.94" cy="221.25" r="1.75"/>
<circle cx="333.14" cy="230.51" r="1.75"/>
<circle cx="335.84" cy="230.51" r="1.75"/>
<circle cx="338.54" cy="230.51" r="1.75"/>
<circle cx="332.44" cy="239.03" r="1.75"/>
<circle cx="335.14" cy="239.03" r="1.75"/>
<circle cx="338.54" cy="239.03" r="1.75"/>
<circle cx="335.84" cy="247.54" r="1.75"/>
<circle cx="338.54" cy="247.54" r="1.75"/>
<circle cx="333.14" cy="256.05" r="1.75"/>
<circle cx="335.84" cy="256.05" r="1.75"/>
<circle cx="338.54" cy="256.05" r="1.75"/>
<circle cx="334.44" cy="264.56" r="1.75"/>
<circle cx="338.54" cy="264.56" r="1.75"/>
<circle cx="333.14" cy="273.07" r="1.75"/>
<circle cx="337.14" cy="281.59" r="1.75"/>
<circle cx="336.54" cy="290.1" r="1.75"/>
<circle cx="341.24" cy="290.1" r="1.75"/>
<circle cx="334.84" cy="298.61" r="1.75"/>
<circle cx="338.54" cy="324.15" r="1.75"/>
<circle cx="336.74" cy="332.66" r="1.75"/>
<circle cx="336.14" cy="221.25" r="1.75"/>
<circle cx="338.54" cy="221.25" r="1.75"/>
<circle cx="334.49" cy="230.51" r="1.75"/>
<circle cx="337.19" cy="230.51" r="1.75"/>
<circle cx="333.79" cy="239.03" r="1.75"/>
<circle cx="336.84" cy="239.03" r="1.75"/>
<circle cx="334.49" cy="256.05" r="1.75"/>
<circle cx="337.19" cy="256.05" r="1.75"/>
<path d="M336.1 219.2L336.1 211.8M332.9 217.35L339.3 213.65M332.9 213.65L339.3 217.35" stroke="#1a1a1a" stroke-width="1.3" fill="none"/>
<line x1="380.71" y1="222" x2="380.71" y2="290.1" class="ln"/>
<line x1="370.07" y1="222" x2="391.36" y2="222" class="ln"/>
<line x1="370.07" y1="290.1" x2="391.36" y2="290.1" class="ln"/>
<rect x="370.07" y="230.51" width="21.29" height="25.54" fill="#fff" class="ln"/>
<line x1="370.07" y1="256.05" x2="391.36" y2="256.05" class="ln"/>
<circle cx="377.51" cy="221.25" r="1.75"/>
<circle cx="380.21" cy="221.25" r="1.75"/>
<circle cx="382.31" cy="221.25" r="1.75"/>
<circle cx="377.51" cy="230.51" r="1.75"/>
<circle cx="380.21" cy="230.51" r="1.75"/>
<circle cx="382.31" cy="239.03" r="1.75"/>
<circle cx="375.51" cy="247.54" r="1.75"/>
<circle cx="377.51" cy="256.05" r="1.75"/>
<circle cx="380.21" cy="256.05" r="1.75"/>
<circle cx="383.01" cy="256.05" r="1.75"/>
<circle cx="373.41" cy="264.56" r="1.75"/>
<circle cx="377.51" cy="273.07" r="1.75"/>
<circle cx="382.31" cy="273.07" r="1.75"/>
<circle cx="377.51" cy="281.59" r="1.75"/>
<circle cx="376.81" cy="290.1" r="1.75"/>
<circle cx="379.51" cy="290.1" r="1.75"/>
<circle cx="379.51" cy="307.12" r="1.75"/>
<circle cx="379.51" cy="305.76" r="1.75"/>
<circle cx="378.86" cy="221.25" r="1.75"/>
<circle cx="381.26" cy="221.25" r="1.75"/>
<circle cx="378.86" cy="256.05" r="1.75"/>
<circle cx="381.61" cy="256.05" r="1.75"/>
<path d="M378.4 219.2L378.4 211.8M375.2 217.35L381.6 213.65M375.2 213.65L381.6 217.35" stroke="#1a1a1a" stroke-width="1.3" fill="none"/>
<text x="485.3" y="202.8" font-size="15.4" font-weight="bold" textLength="44.3" lengthAdjust="spacingAndGlyphs">Bodily</text>
<text x="532.5" y="202.8" font-size="15.4" font-weight="bold" textLength="31" lengthAdjust="spacingAndGlyphs">pain</text>
<rect x="431" y="208.6" width="170.5" height="149.6" fill="none" stroke="#3a3a3a" stroke-width="1.8"/>
<line x1="428" y1="358.2" x2="431" y2="358.2" stroke="#1a1a1a" stroke-width="1.3"/>
<text class="yl" transform="translate(415.8,361.8) scale(1.18,1)">0</text>
<line x1="428" y1="344.58" x2="431" y2="344.58" stroke="#1a1a1a" stroke-width="1.3"/>
<text class="yl" transform="translate(416.7,348.18) scale(1.18,1)">10</text>
<line x1="428" y1="330.96" x2="431" y2="330.96" stroke="#1a1a1a" stroke-width="1.3"/>
<text class="yl" transform="translate(416.7,334.56) scale(1.18,1)">20</text>
<line x1="428" y1="317.34" x2="431" y2="317.34" stroke="#1a1a1a" stroke-width="1.3"/>
<text class="yl" transform="translate(416.7,320.94) scale(1.18,1)">30</text>
<line x1="428" y1="303.72" x2="431" y2="303.72" stroke="#1a1a1a" stroke-width="1.3"/>
<text class="yl" transform="translate(416.7,307.32) scale(1.18,1)">40</text>
<line x1="428" y1="290.1" x2="431" y2="290.1" stroke="#1a1a1a" stroke-width="1.3"/>
<text class="yl" transform="translate(416.7,293.7) scale(1.18,1)">50</text>
<line x1="428" y1="276.48" x2="431" y2="276.48" stroke="#1a1a1a" stroke-width="1.3"/>
<text class="yl" transform="translate(416.7,280.08) scale(1.18,1)">60</text>
<line x1="428" y1="262.86" x2="431" y2="262.86" stroke="#1a1a1a" stroke-width="1.3"/>
<text class="yl" transform="translate(416.7,266.46) scale(1.18,1)">70</text>
<line x1="428" y1="249.24" x2="431" y2="249.24" stroke="#1a1a1a" stroke-width="1.3"/>
<text class="yl" transform="translate(416.7,252.84) scale(1.18,1)">80</text>
<line x1="428" y1="235.62" x2="431" y2="235.62" stroke="#1a1a1a" stroke-width="1.3"/>
<text class="yl" transform="translate(416.7,239.22) scale(1.18,1)">90</text>
<line x1="428" y1="222" x2="431" y2="222" stroke="#1a1a1a" stroke-width="1.3"/>
<text class="yl" transform="translate(417.6,225.6) scale(1.18,1)">100</text>
<text class="xl" transform="translate(441,365.7) scale(1,1.07)" textLength="38.1" lengthAdjust="spacingAndGlyphs">baseline</text>
<text class="xl" transform="translate(482.5,365.7) scale(1,1.07)" textLength="35" lengthAdjust="spacingAndGlyphs">4weeks</text>
<text class="xl" transform="translate(520.3,365.7) scale(1,1.07)" textLength="40.5" lengthAdjust="spacingAndGlyphs">12weeks</text>
<text class="xl" transform="translate(563.1,365.7) scale(1,1.07)" textLength="41" lengthAdjust="spacingAndGlyphs">24weeks</text>
<line x1="452.31" y1="273.76" x2="452.31" y2="358.2" class="ln"/>
<line x1="441.66" y1="273.76" x2="462.97" y2="273.76" class="ln"/>
<line x1="441.66" y1="358.2" x2="462.97" y2="358.2" class="ln"/>
<rect x="441.66" y="302.36" width="21.31" height="25.88" fill="#fff" class="ln"/>
<line x1="441.66" y1="302.36" x2="462.97" y2="302.36" class="ln"/>
<circle cx="452.41" cy="243.79" r="1.75"/>
<circle cx="452.21" cy="273.76" r="1.75"/>
<circle cx="448.11" cy="288.74" r="1.75"/>
<circle cx="450.81" cy="288.74" r="1.75"/>
<circle cx="454.21" cy="287.38" r="1.75"/>
<circle cx="455.61" cy="288.74" r="1.75"/>
<circle cx="446.71" cy="302.36" r="1.75"/>
<circle cx="449.41" cy="302.36" r="1.75"/>
<circle cx="452.21" cy="302.36" r="1.75"/>
<circle cx="454.21" cy="302.36" r="1.75"/>
<circle cx="448.81" cy="314.62" r="1.75"/>
<circle cx="450.81" cy="315.98" r="1.75"/>
<circle cx="453.51" cy="315.98" r="1.75"/>
<circle cx="455.61" cy="314.62" r="1.75"/>
<circle cx="448.11" cy="328.24" r="1.75"/>
<circle cx="450.81" cy="328.24" r="1.75"/>
<circle cx="454.21" cy="328.24" r="1.75"/>
<circle cx="448.11" cy="343.22" r="1.75"/>
<circle cx="448.81" cy="341.86" r="1.75"/>
<circle cx="451.51" cy="341.86" r="1.75"/>
<circle cx="454.91" cy="344.58" r="1.75"/>
<circle cx="455.31" cy="343.22" r="1.75"/>
<circle cx="452.81" cy="358.2" r="1.75"/>
<circle cx="449.46" cy="288.74" r="1.75"/>
<circle cx="448.06" cy="302.36" r="1.75"/>
<circle cx="450.81" cy="302.36" r="1.75"/>
<circle cx="453.21" cy="302.36" r="1.75"/>
<circle cx="449.46" cy="328.24" r="1.75"/>
<circle cx="452.51" cy="328.24" r="1.75"/>
<line x1="494.94" y1="243.79" x2="494.94" y2="358.2" class="ln"/>
<line x1="484.28" y1="243.79" x2="505.59" y2="243.79" class="ln"/>
<line x1="484.28" y1="358.2" x2="505.59" y2="358.2" class="ln"/>
<rect x="484.28" y="273.76" width="21.31" height="40.86" fill="#fff" class="ln"/>
<line x1="484.28" y1="288.74" x2="505.59" y2="288.74" class="ln"/>
<circle cx="498.24" cy="243.79" r="1.75"/>
<circle cx="493.14" cy="257.41" r="1.75"/>
<circle cx="494.94" cy="260.14" r="1.75"/>
<circle cx="489.74" cy="271.03" r="1.75"/>
<circle cx="489.74" cy="273.76" r="1.75"/>
<circle cx="493.14" cy="273.76" r="1.75"/>
<circle cx="495.24" cy="273.76" r="1.75"/>
<circle cx="491.84" cy="287.38" r="1.75"/>
<circle cx="495.24" cy="287.38" r="1.75"/>
<circle cx="498.64" cy="288.74" r="1.75"/>
<circle cx="490.44" cy="302.36" r="1.75"/>
<circle cx="493.14" cy="302.36" r="1.75"/>
<circle cx="495.94" cy="302.36" r="1.75"/>
<circle cx="497.94" cy="302.36" r="1.75"/>
<circle cx="491.14" cy="314.62" r="1.75"/>
<circle cx="493.84" cy="315.98" r="1.75"/>
<circle cx="495.24" cy="328.24" r="1.75"/>
<circle cx="493.14" cy="341.86" r="1.75"/>
<circle cx="493.14" cy="358.2" r="1.75"/>
<circle cx="497.24" cy="358.2" r="1.75"/>
<circle cx="491.44" cy="273.76" r="1.75"/>
<circle cx="494.19" cy="273.76" r="1.75"/>
<circle cx="491.79" cy="302.36" r="1.75"/>
<circle cx="494.54" cy="302.36" r="1.75"/>
<circle cx="496.94" cy="302.36" r="1.75"/>
<path d="M493.8 238.3L493.8 230.9M490.6 236.45L497 232.75M490.6 232.75L497 236.45" stroke="#1a1a1a" stroke-width="1.3" fill="none"/>
<line x1="537.56" y1="222" x2="537.56" y2="302.36" class="ln"/>
<line x1="526.91" y1="222" x2="548.22" y2="222" class="ln"/>
<line x1="526.91" y1="302.36" x2="548.22" y2="302.36" class="ln"/>
<rect x="526.91" y="260.14" width="21.31" height="28.6" fill="#fff" class="ln"/>
<line x1="526.91" y1="273.76" x2="548.22" y2="273.76" class="ln"/>
<circle cx="535.36" cy="221.25" r="1.75"/>
<circle cx="538.06" cy="221.25" r="1.75"/>
<circle cx="536.06" cy="243.79" r="1.75"/>
<circle cx="539.46" cy="243.79" r="1.75"/>
<circle cx="536.06" cy="257.41" r="1.75"/>
<circle cx="539.46" cy="257.41" r="1.75"/>
<circle cx="533.36" cy="260.14" r="1.75"/>
<circle cx="538.76" cy="260.14" r="1.75"/>
<circle cx="535.36" cy="273.76" r="1.75"/>
<circle cx="537.46" cy="273.76" r="1.75"/>
<circle cx="538.06" cy="275.12" r="1.75"/>
<circle cx="534.66" cy="288.74" r="1.75"/>
<circle cx="536.76" cy="287.38" r="1.75"/>
<circle cx="538.76" cy="288.74" r="1.75"/>
<circle cx="532.66" cy="302.36" r="1.75"/>
<circle cx="535.36" cy="302.36" r="1.75"/>
<circle cx="538.06" cy="302.36" r="1.75"/>
<circle cx="540.86" cy="302.36" r="1.75"/>
<circle cx="534.01" cy="302.36" r="1.75"/>
<circle cx="536.71" cy="302.36" r="1.75"/>
<circle cx="539.46" cy="302.36" r="1.75"/>
<path d="M537.5 216.9L537.5 209.5M534.3 215.05L540.7 211.35M534.3 211.35L540.7 215.05" stroke="#1a1a1a" stroke-width="1.3" fill="none"/>
<line x1="580.19" y1="222" x2="580.19" y2="302.36" class="ln"/>
<line x1="569.53" y1="222" x2="590.84" y2="222" class="ln"/>
<line x1="569.53" y1="302.36" x2="590.84" y2="302.36" class="ln"/>
<rect x="569.53" y="243.79" width="21.31" height="43.58" fill="#fff" class="ln"/>
<line x1="569.53" y1="273.76" x2="590.84" y2="273.76" class="ln"/>
<circle cx="578.39" cy="221.25" r="1.75"/>
<circle cx="581.19" cy="221.25" r="1.75"/>
<circle cx="583.19" cy="221.25" r="1.75"/>
<circle cx="574.29" cy="243.79" r="1.75"/>
<circle cx="579.09" cy="243.79" r="1.75"/>
<circle cx="582.49" cy="243.79" r="1.75"/>
<circle cx="581.19" cy="257.41" r="1.75"/>
<circle cx="583.19" cy="257.41" r="1.75"/>
<circle cx="575.69" cy="260.14" r="1.75"/>
<circle cx="578.39" cy="260.14" r="1.75"/>
<circle cx="578.39" cy="273.76" r="1.75"/>
<circle cx="581.19" cy="273.76" r="1.75"/>
<circle cx="583.89" cy="273.76" r="1.75"/>
<circle cx="573.59" cy="287.38" r="1.75"/>
<circle cx="578.39" cy="287.38" r="1.75"/>
<circle cx="580.49" cy="287.38" r="1.75"/>
<circle cx="583.89" cy="287.38" r="1.75"/>
<circle cx="574.29" cy="302.36" r="1.75"/>
<circle cx="583.19" cy="302.36" r="1.75"/>
<circle cx="579.79" cy="221.25" r="1.75"/>
<circle cx="582.19" cy="221.25" r="1.75"/>
<circle cx="580.79" cy="243.79" r="1.75"/>
<circle cx="579.79" cy="273.76" r="1.75"/>
<circle cx="582.54" cy="273.76" r="1.75"/>
<circle cx="579.44" cy="287.38" r="1.75"/>
<circle cx="582.19" cy="287.38" r="1.75"/>
<path d="M579.8 216.9L579.8 209.5M576.6 215.05L583 211.35M576.6 211.35L583 215.05" stroke="#1a1a1a" stroke-width="1.3" fill="none"/>
<text x="673.4" y="203.5" font-size="15.4" font-weight="bold" textLength="55.3" lengthAdjust="spacingAndGlyphs">General</text>
<text x="730.8" y="203.5" font-size="15.4" font-weight="bold" textLength="44.2" lengthAdjust="spacingAndGlyphs">health</text>
<rect x="639.5" y="208.6" width="170.5" height="149.6" fill="none" stroke="#3a3a3a" stroke-width="1.8"/>
<line x1="636.5" y1="358.2" x2="639.5" y2="358.2" stroke="#1a1a1a" stroke-width="1.3"/>
<text class="yl" transform="translate(624,361.8) scale(1.18,1)">0</text>
<line x1="636.5" y1="344.58" x2="639.5" y2="344.58" stroke="#1a1a1a" stroke-width="1.3"/>
<text class="yl" transform="translate(624.9,348.18) scale(1.18,1)">10</text>
<line x1="636.5" y1="330.96" x2="639.5" y2="330.96" stroke="#1a1a1a" stroke-width="1.3"/>
<text class="yl" transform="translate(624.9,334.56) scale(1.18,1)">20</text>
<line x1="636.5" y1="317.34" x2="639.5" y2="317.34" stroke="#1a1a1a" stroke-width="1.3"/>
<text class="yl" transform="translate(624.9,320.94) scale(1.18,1)">30</text>
<line x1="636.5" y1="303.72" x2="639.5" y2="303.72" stroke="#1a1a1a" stroke-width="1.3"/>
<text class="yl" transform="translate(624.9,307.32) scale(1.18,1)">40</text>
<line x1="636.5" y1="290.1" x2="639.5" y2="290.1" stroke="#1a1a1a" stroke-width="1.3"/>
<text class="yl" transform="translate(624.9,293.7) scale(1.18,1)">50</text>
<line x1="636.5" y1="276.48" x2="639.5" y2="276.48" stroke="#1a1a1a" stroke-width="1.3"/>
<text class="yl" transform="translate(624.9,280.08) scale(1.18,1)">60</text>
<line x1="636.5" y1="262.86" x2="639.5" y2="262.86" stroke="#1a1a1a" stroke-width="1.3"/>
<text class="yl" transform="translate(624.9,266.46) scale(1.18,1)">70</text>
<line x1="636.5" y1="249.24" x2="639.5" y2="249.24" stroke="#1a1a1a" stroke-width="1.3"/>
<text class="yl" transform="translate(624.9,252.84) scale(1.18,1)">80</text>
<line x1="636.5" y1="235.62" x2="639.5" y2="235.62" stroke="#1a1a1a" stroke-width="1.3"/>
<text class="yl" transform="translate(624.9,239.22) scale(1.18,1)">90</text>
<line x1="636.5" y1="222" x2="639.5" y2="222" stroke="#1a1a1a" stroke-width="1.3"/>
<text class="yl" transform="translate(625.8,225.6) scale(1.18,1)">100</text>
<text class="xl" transform="translate(644.8,365.7) scale(1,1.07)" textLength="38.1" lengthAdjust="spacingAndGlyphs">baseline</text>
<text class="xl" transform="translate(686.3,365.7) scale(1,1.07)" textLength="35" lengthAdjust="spacingAndGlyphs">4weeks</text>
<text class="xl" transform="translate(724.7,365.7) scale(1,1.07)" textLength="39.9" lengthAdjust="spacingAndGlyphs">12weeks</text>
<text class="xl" transform="translate(766.9,365.7) scale(1,1.07)" textLength="40.9" lengthAdjust="spacingAndGlyphs">24weeks</text>
<line x1="660.81" y1="259.45" x2="660.81" y2="351.39" class="ln"/>
<line x1="650.16" y1="259.45" x2="671.47" y2="259.45" class="ln"/>
<line x1="650.16" y1="351.39" x2="671.47" y2="351.39" class="ln"/>
<rect x="650.16" y="283.29" width="21.31" height="27.24" fill="#fff" class="ln"/>
<line x1="650.16" y1="296.91" x2="671.47" y2="296.91" class="ln"/>
<circle cx="662.91" cy="259.45" r="1.75"/>
<circle cx="656.11" cy="266.26" r="1.75"/>
<circle cx="654.01" cy="273.07" r="1.75"/>
<circle cx="659.21" cy="273.07" r="1.75"/>
<circle cx="658.11" cy="279.88" r="1.75"/>
<circle cx="660.21" cy="279.88" r="1.75"/>
<circle cx="659.51" cy="283.29" r="1.75"/>
<circle cx="656.81" cy="287.38" r="1.75"/>
<circle cx="659.51" cy="287.38" r="1.75"/>
<circle cx="661.51" cy="288.74" r="1.75"/>
<circle cx="658.11" cy="296.91" r="1.75"/>
<circle cx="660.21" cy="296.91" r="1.75"/>
<circle cx="662.91" cy="296.91" r="1.75"/>
<circle cx="659.51" cy="303.72" r="1.75"/>
<circle cx="659.21" cy="310.53" r="1.75"/>
<circle cx="663.61" cy="310.53" r="1.75"/>
<circle cx="660.21" cy="324.15" r="1.75"/>
<circle cx="655.71" cy="330.96" r="1.75"/>
<circle cx="660.81" cy="330.96" r="1.75"/>
<circle cx="655.71" cy="344.58" r="1.75"/>
<circle cx="661.11" cy="344.58" r="1.75"/>
<circle cx="658.81" cy="351.39" r="1.75"/>
<circle cx="659.51" cy="358.2" r="1.75"/>
<circle cx="659.16" cy="296.91" r="1.75"/>
<circle cx="661.56" cy="296.91" r="1.75"/>
<line x1="703.44" y1="262.86" x2="703.44" y2="337.77" class="ln"/>
<line x1="692.78" y1="262.86" x2="714.09" y2="262.86" class="ln"/>
<line x1="692.78" y1="337.77" x2="714.09" y2="337.77" class="ln"/>
<rect x="692.78" y="280.57" width="21.31" height="23.15" fill="#fff" class="ln"/>
<line x1="692.78" y1="290.1" x2="714.09" y2="290.1" class="ln"/>
<circle cx="703.24" cy="262.86" r="1.75"/>
<circle cx="701.54" cy="266.26" r="1.75"/>
<circle cx="697.04" cy="273.07" r="1.75"/>
<circle cx="699.74" cy="273.07" r="1.75"/>
<circle cx="703.24" cy="273.07" r="1.75"/>
<circle cx="697.74" cy="279.88" r="1.75"/>
<circle cx="702.54" cy="279.88" r="1.75"/>
<circle cx="705.94" cy="279.88" r="1.75"/>
<circle cx="701.54" cy="283.29" r="1.75"/>
<circle cx="700.44" cy="288.74" r="1.75"/>
<circle cx="703.84" cy="287.38" r="1.75"/>
<circle cx="699.14" cy="295.14" r="1.75"/>
<circle cx="703.84" cy="296.91" r="1.75"/>
<circle cx="696.34" cy="303.72" r="1.75"/>
<circle cx="701.84" cy="302.77" r="1.75"/>
<circle cx="703.84" cy="301.54" r="1.75"/>
<circle cx="701.14" cy="310.53" r="1.75"/>
<circle cx="704.54" cy="310.53" r="1.75"/>
<circle cx="699.74" cy="324.15" r="1.75"/>
<circle cx="702.94" cy="335.73" r="1.75"/>
<circle cx="702.14" cy="337.77" r="1.75"/>
<circle cx="702.54" cy="358.2" r="1.75"/>
<circle cx="698.39" cy="273.07" r="1.75"/>
<circle cx="701.49" cy="273.07" r="1.75"/>
<circle cx="704.24" cy="279.88" r="1.75"/>
<path d="M702.5 259.5L702.5 252.1M699.3 257.65L705.7 253.95M699.3 253.95L705.7 257.65" stroke="#1a1a1a" stroke-width="1.3" fill="none"/>
<line x1="746.06" y1="252.64" x2="746.06" y2="324.15" class="ln"/>
<line x1="735.41" y1="252.64" x2="756.72" y2="252.64" class="ln"/>
<line x1="735.41" y1="324.15" x2="756.72" y2="324.15" class="ln"/>
<rect x="735.41" y="273.76" width="21.31" height="20.43" fill="#fff" class="ln"/>
<line x1="735.41" y1="280.57" x2="756.72" y2="280.57" class="ln"/>
<circle cx="744.36" cy="252.64" r="1.75"/>
<circle cx="743.36" cy="259.45" r="1.75"/>
<circle cx="747.46" cy="259.45" r="1.75"/>
<circle cx="741.36" cy="266.26" r="1.75"/>
<circle cx="744.76" cy="266.26" r="1.75"/>
<circle cx="747.46" cy="266.26" r="1.75"/>
<circle cx="743.36" cy="273.07" r="1.75"/>
<circle cx="746.76" cy="273.07" r="1.75"/>
<circle cx="742.06" cy="279.88" r="1.75"/>
<circle cx="744.76" cy="279.88" r="1.75"/>
<circle cx="747.46" cy="279.88" r="1.75"/>
<circle cx="745.16" cy="283.29" r="1.75"/>
<circle cx="742.66" cy="286.69" r="1.75"/>
<circle cx="745.46" cy="286.69" r="1.75"/>
<circle cx="747.46" cy="286.69" r="1.75"/>
<circle cx="743.36" cy="290.1" r="1.75"/>
<circle cx="745.46" cy="294.19" r="1.75"/>
<circle cx="747.46" cy="295.55" r="1.75"/>
<circle cx="744.06" cy="301" r="1.75"/>
<circle cx="740.66" cy="303.72" r="1.75"/>
<circle cx="744.76" cy="303.72" r="1.75"/>
<circle cx="747.46" cy="303.72" r="1.75"/>
<circle cx="745.16" cy="324.15" r="1.75"/>
<circle cx="743.06" cy="266.26" r="1.75"/>
<circle cx="746.11" cy="266.26" r="1.75"/>
<circle cx="743.41" cy="279.88" r="1.75"/>
<circle cx="746.11" cy="279.88" r="1.75"/>
<circle cx="744.06" cy="286.69" r="1.75"/>
<circle cx="746.46" cy="286.69" r="1.75"/>
<circle cx="746.11" cy="303.72" r="1.75"/>
<path d="M744.8 248.8L744.8 241.4M741.6 246.95L748 243.25M741.6 243.25L748 246.95" stroke="#1a1a1a" stroke-width="1.3" fill="none"/>
<line x1="788.69" y1="245.83" x2="788.69" y2="330.96" class="ln"/>
<line x1="778.03" y1="245.83" x2="799.34" y2="245.83" class="ln"/>
<line x1="778.03" y1="330.96" x2="799.34" y2="330.96" class="ln"/>
<rect x="778.03" y="273.76" width="21.31" height="23.15" fill="#fff" class="ln"/>
<line x1="778.03" y1="280.57" x2="799.34" y2="280.57" class="ln"/>
<circle cx="786.39" cy="245.83" r="1.75"/>
<circle cx="786.39" cy="252.64" r="1.75"/>
<circle cx="784.39" cy="259.45" r="1.75"/>
<circle cx="791.19" cy="259.45" r="1.75"/>
<circle cx="786.39" cy="266.26" r="1.75"/>
<circle cx="785.09" cy="273.07" r="1.75"/>
<circle cx="787.79" cy="273.07" r="1.75"/>
<circle cx="792.59" cy="273.07" r="1.75"/>
<circle cx="785.09" cy="279.88" r="1.75"/>
<circle cx="787.79" cy="279.88" r="1.75"/>
<circle cx="787.79" cy="283.29" r="1.75"/>
<circle cx="786.39" cy="286.69" r="1.75"/>
<circle cx="787.79" cy="288.06" r="1.75"/>
<circle cx="786.39" cy="294.19" r="1.75"/>
<circle cx="789.19" cy="295.55" r="1.75"/>
<circle cx="786.39" cy="303.72" r="1.75"/>
<circle cx="787.79" cy="303.72" r="1.75"/>
<circle cx="790.79" cy="307.81" r="1.75"/>
<circle cx="789.79" cy="324.15" r="1.75"/>
<circle cx="784.39" cy="330.96" r="1.75"/>
<circle cx="786.44" cy="273.07" r="1.75"/>
<path d="M787.1 242.8L787.1 235.4M783.9 240.95L790.3 237.25M783.9 237.25L790.3 240.95" stroke="#1a1a1a" stroke-width="1.3" fill="none"/>
<text x="93.5" y="391.6" font-size="15.4" font-weight="bold" textLength="49.6" lengthAdjust="spacingAndGlyphs">Vitality</text>
<rect x="30.1" y="397.1" width="168.8" height="148.8" fill="none" stroke="#3a3a3a" stroke-width="1.8"/>
<line x1="27.1" y1="545.9" x2="30.1" y2="545.9" stroke="#1a1a1a" stroke-width="1.3"/>
<text class="yl" transform="translate(14.2,549.5) scale(1.18,1)">0</text>
<line x1="27.1" y1="532.29" x2="30.1" y2="532.29" stroke="#1a1a1a" stroke-width="1.3"/>
<text class="yl" transform="translate(15.1,535.89) scale(1.18,1)">10</text>
<line x1="27.1" y1="518.68" x2="30.1" y2="518.68" stroke="#1a1a1a" stroke-width="1.3"/>
<text class="yl" transform="translate(15.1,522.28) scale(1.18,1)">20</text>
<line x1="27.1" y1="505.07" x2="30.1" y2="505.07" stroke="#1a1a1a" stroke-width="1.3"/>
<text class="yl" transform="translate(15.1,508.67) scale(1.18,1)">30</text>
<line x1="27.1" y1="491.46" x2="30.1" y2="491.46" stroke="#1a1a1a" stroke-width="1.3"/>
<text class="yl" transform="translate(15.1,495.06) scale(1.18,1)">40</text>
<line x1="27.1" y1="477.85" x2="30.1" y2="477.85" stroke="#1a1a1a" stroke-width="1.3"/>
<text class="yl" transform="translate(15.1,481.45) scale(1.18,1)">50</text>
<line x1="27.1" y1="464.24" x2="30.1" y2="464.24" stroke="#1a1a1a" stroke-width="1.3"/>
<text class="yl" transform="translate(15.1,467.84) scale(1.18,1)">60</text>
<line x1="27.1" y1="450.63" x2="30.1" y2="450.63" stroke="#1a1a1a" stroke-width="1.3"/>
<text class="yl" transform="translate(15.1,454.23) scale(1.18,1)">70</text>
<line x1="27.1" y1="437.02" x2="30.1" y2="437.02" stroke="#1a1a1a" stroke-width="1.3"/>
<text class="yl" transform="translate(15.1,440.62) scale(1.18,1)">80</text>
<line x1="27.1" y1="423.41" x2="30.1" y2="423.41" stroke="#1a1a1a" stroke-width="1.3"/>
<text class="yl" transform="translate(15.1,427.01) scale(1.18,1)">90</text>
<line x1="27.1" y1="409.8" x2="30.1" y2="409.8" stroke="#1a1a1a" stroke-width="1.3"/>
<text class="yl" transform="translate(16,413.4) scale(1.18,1)">100</text>
<text class="xl" transform="translate(33.7,554.3) scale(1,1.0)" textLength="38.3" lengthAdjust="spacingAndGlyphs">baseline</text>
<text class="xl" transform="translate(75,554.3) scale(1,1.0)" textLength="35.8" lengthAdjust="spacingAndGlyphs">4weeks</text>
<text class="xl" transform="translate(114.3,554.3) scale(1,1.0)" textLength="39.8" lengthAdjust="spacingAndGlyphs">12weeks</text>
<text class="xl" transform="translate(156.9,554.3) scale(1,1.0)" textLength="40.5" lengthAdjust="spacingAndGlyphs">24weeks</text>
<line x1="51.2" y1="426.81" x2="51.2" y2="545.9" class="ln"/>
<line x1="40.65" y1="426.81" x2="61.75" y2="426.81" class="ln"/>
<line x1="40.65" y1="545.9" x2="61.75" y2="545.9" class="ln"/>
<rect x="40.65" y="460.84" width="21.1" height="51.04" fill="#fff" class="ln"/>
<line x1="40.65" y1="486.36" x2="61.75" y2="486.36" class="ln"/>
<circle cx="51.2" cy="426.81" r="1.8"/>
<circle cx="47.2" cy="435.32" r="1.8"/>
<circle cx="49.9" cy="435.32" r="1.8"/>
<circle cx="57.4" cy="435.32" r="1.8"/>
<circle cx="47.8" cy="452.33" r="1.8"/>
<circle cx="51.9" cy="460.84" r="1.8"/>
<circle cx="53.6" cy="460.16" r="1.8"/>
<circle cx="51.9" cy="469.34" r="1.8"/>
<circle cx="47.2" cy="477.85" r="1.8"/>
<circle cx="49.9" cy="477.85" r="1.8"/>
<circle cx="53.3" cy="477.85" r="1.8"/>
<circle cx="49.2" cy="486.36" r="1.8"/>
<circle cx="51.9" cy="486.36" r="1.8"/>
<circle cx="48.5" cy="494.86" r="1.8"/>
<circle cx="51.9" cy="494.86" r="1.8"/>
<circle cx="54" cy="494.86" r="1.8"/>
<circle cx="51.9" cy="503.37" r="1.8"/>
<circle cx="48.5" cy="511.88" r="1.8"/>
<circle cx="53.3" cy="511.88" r="1.8"/>
<circle cx="47.6" cy="520.38" r="1.8"/>
<circle cx="49.2" cy="528.89" r="1.8"/>
<circle cx="51.2" cy="528.89" r="1.8"/>
<circle cx="47.8" cy="545.9" r="1.8"/>
<circle cx="51.2" cy="545.9" r="1.8"/>
<circle cx="48.55" cy="435.32" r="1.8"/>
<circle cx="48.55" cy="477.85" r="1.8"/>
<circle cx="51.6" cy="477.85" r="1.8"/>
<circle cx="50.2" cy="494.86" r="1.8"/>
<circle cx="52.95" cy="494.86" r="1.8"/>
<line x1="93.4" y1="417.29" x2="93.4" y2="545.9" class="ln"/>
<line x1="82.85" y1="417.29" x2="103.95" y2="417.29" class="ln"/>
<line x1="82.85" y1="545.9" x2="103.95" y2="545.9" class="ln"/>
<rect x="82.85" y="451.72" width="21.1" height="51.65" fill="#fff" class="ln"/>
<line x1="82.85" y1="477.85" x2="103.95" y2="477.85" class="ln"/>
<circle cx="93.9" cy="417.29" r="1.8"/>
<circle cx="94.2" cy="425.72" r="1.8"/>
<circle cx="90.7" cy="435.32" r="1.8"/>
<circle cx="93.4" cy="435.32" r="1.8"/>
<circle cx="94.8" cy="443.82" r="1.8"/>
<circle cx="92.1" cy="452.33" r="1.8"/>
<circle cx="90.7" cy="460.84" r="1.8"/>
<circle cx="92.8" cy="460.84" r="1.8"/>
<circle cx="95.5" cy="460.84" r="1.8"/>
<circle cx="92.8" cy="469.34" r="1.8"/>
<circle cx="94.8" cy="469.34" r="1.8"/>
<circle cx="92.1" cy="477.85" r="1.8"/>
<circle cx="94.8" cy="477.85" r="1.8"/>
<circle cx="92.1" cy="486.36" r="1.8"/>
<circle cx="90.1" cy="494.86" r="1.8"/>
<circle cx="92.8" cy="494.86" r="1.8"/>
<circle cx="88" cy="503.37" r="1.8"/>
<circle cx="93.4" cy="503.37" r="1.8"/>
<circle cx="90.7" cy="511.88" r="1.8"/>
<circle cx="93.4" cy="511.88" r="1.8"/>
<circle cx="92.1" cy="520.38" r="1.8"/>
<circle cx="89.4" cy="545.9" r="1.8"/>
<circle cx="96.9" cy="545.9" r="1.8"/>
<circle cx="91.75" cy="460.84" r="1.8"/>
<circle cx="94.15" cy="460.84" r="1.8"/>
<path d="M93.5 412.7L93.5 407.1M91.08 411.3L95.92 408.5M91.08 408.5L95.92 411.3" stroke="#4d4d4d" stroke-width="1.3" fill="none"/>
<line x1="135.6" y1="409.8" x2="135.6" y2="528.89" class="ln"/>
<line x1="125.05" y1="409.8" x2="146.15" y2="409.8" class="ln"/>
<line x1="125.05" y1="528.89" x2="146.15" y2="528.89" class="ln"/>
<rect x="125.05" y="443.82" width="21.1" height="34.03" fill="#fff" class="ln"/>
<line x1="125.05" y1="460.84" x2="146.15" y2="460.84" class="ln"/>
<circle cx="134.4" cy="409.05" r="1.8"/>
<circle cx="138.5" cy="426.81" r="1.8"/>
<circle cx="130.3" cy="435.32" r="1.8"/>
<circle cx="135.8" cy="435.32" r="1.8"/>
<circle cx="134.4" cy="443.82" r="1.8"/>
<circle cx="136.5" cy="443.82" r="1.8"/>
<circle cx="137.8" cy="443.82" r="1.8"/>
<circle cx="131.7" cy="452.33" r="1.8"/>
<circle cx="136.2" cy="452.33" r="1.8"/>
<circle cx="133.1" cy="460.84" r="1.8"/>
<circle cx="136.5" cy="460.16" r="1.8"/>
<circle cx="134.4" cy="469.34" r="1.8"/>
<circle cx="137.2" cy="469.34" r="1.8"/>
<circle cx="139.9" cy="469.34" r="1.8"/>
<circle cx="132.4" cy="477.85" r="1.8"/>
<circle cx="135.1" cy="477.85" r="1.8"/>
<circle cx="139.2" cy="477.85" r="1.8"/>
<circle cx="135.1" cy="486.36" r="1.8"/>
<circle cx="133.8" cy="494.86" r="1.8"/>
<circle cx="135.8" cy="494.86" r="1.8"/>
<circle cx="135.8" cy="511.88" r="1.8"/>
<circle cx="133.7" cy="520.38" r="1.8"/>
<circle cx="135.8" cy="528.89" r="1.8"/>
<circle cx="129.7" cy="537.39" r="1.8"/>
<circle cx="135.1" cy="537.39" r="1.8"/>
<circle cx="135.45" cy="443.82" r="1.8"/>
<circle cx="137.15" cy="443.82" r="1.8"/>
<circle cx="135.8" cy="469.34" r="1.8"/>
<circle cx="138.55" cy="469.34" r="1.8"/>
<circle cx="133.75" cy="477.85" r="1.8"/>
<path d="M134.8 405.9L134.8 400.3M132.38 404.5L137.22 401.7M132.38 401.7L137.22 404.5" stroke="#4d4d4d" stroke-width="1.3" fill="none"/>
<line x1="177.8" y1="409.8" x2="177.8" y2="528.89" class="ln"/>
<line x1="167.25" y1="409.8" x2="188.35" y2="409.8" class="ln"/>
<line x1="167.25" y1="528.89" x2="188.35" y2="528.89" class="ln"/>
<rect x="167.25" y="435.32" width="21.1" height="42.53" fill="#fff" class="ln"/>
<line x1="167.25" y1="460.84" x2="188.35" y2="460.84" class="ln"/>
<circle cx="176" cy="409.05" r="1.8"/>
<circle cx="176.6" cy="418.31" r="1.8"/>
<circle cx="174.6" cy="426.81" r="1.8"/>
<circle cx="178.7" cy="426.81" r="1.8"/>
<circle cx="174.6" cy="435.32" r="1.8"/>
<circle cx="177.3" cy="435.32" r="1.8"/>
<circle cx="180.1" cy="435.32" r="1.8"/>
<circle cx="176.6" cy="443.82" r="1.8"/>
<circle cx="178" cy="443.82" r="1.8"/>
<circle cx="174.6" cy="452.33" r="1.8"/>
<circle cx="180.1" cy="452.33" r="1.8"/>
<circle cx="175.3" cy="460.84" r="1.8"/>
<circle cx="179.4" cy="460.16" r="1.8"/>
<circle cx="176" cy="469.34" r="1.8"/>
<circle cx="179.4" cy="469.34" r="1.8"/>
<circle cx="176" cy="477.85" r="1.8"/>
<circle cx="179.4" cy="477.85" r="1.8"/>
<circle cx="177.3" cy="486.36" r="1.8"/>
<circle cx="175.3" cy="494.86" r="1.8"/>
<circle cx="176.6" cy="495.54" r="1.8"/>
<circle cx="176.6" cy="503.37" r="1.8"/>
<circle cx="178.4" cy="511.88" r="1.8"/>
<circle cx="179.4" cy="528.89" r="1.8"/>
<circle cx="175.95" cy="435.32" r="1.8"/>
<circle cx="178.7" cy="435.32" r="1.8"/>
<path d="M176.7 405.9L176.7 400.3M174.28 404.5L179.12 401.7M174.28 401.7L179.12 404.5" stroke="#4d4d4d" stroke-width="1.3" fill="none"/>
<text x="267.6" y="391.4" font-size="15.4" font-weight="bold" textLength="45" lengthAdjust="spacingAndGlyphs">Social</text>
<text x="313.6" y="391.4" font-size="15.4" font-weight="bold" textLength="81.6" lengthAdjust="spacingAndGlyphs">functioning</text>
<rect x="234.8" y="397.1" width="169.6" height="148.8" fill="none" stroke="#3a3a3a" stroke-width="1.8"/>
<line x1="231.8" y1="545.9" x2="234.8" y2="545.9" stroke="#1a1a1a" stroke-width="1.3"/>
<text class="yl" transform="translate(216.2,549.5) scale(1.18,1)">0</text>
<line x1="231.8" y1="532.29" x2="234.8" y2="532.29" stroke="#1a1a1a" stroke-width="1.3"/>
<text class="yl" transform="translate(217.1,535.89) scale(1.18,1)">10</text>
<line x1="231.8" y1="518.68" x2="234.8" y2="518.68" stroke="#1a1a1a" stroke-width="1.3"/>
<text class="yl" transform="translate(217.1,522.28) scale(1.18,1)">20</text>
<line x1="231.8" y1="505.07" x2="234.8" y2="505.07" stroke="#1a1a1a" stroke-width="1.3"/>
<text class="yl" transform="translate(217.1,508.67) scale(1.18,1)">30</text>
<line x1="231.8" y1="491.46" x2="234.8" y2="491.46" stroke="#1a1a1a" stroke-width="1.3"/>
<text class="yl" transform="translate(217.1,495.06) scale(1.18,1)">40</text>
<line x1="231.8" y1="477.85" x2="234.8" y2="477.85" stroke="#1a1a1a" stroke-width="1.3"/>
<text class="yl" transform="translate(217.1,481.45) scale(1.18,1)">50</text>
<line x1="231.8" y1="464.24" x2="234.8" y2="464.24" stroke="#1a1a1a" stroke-width="1.3"/>
<text class="yl" transform="translate(217.1,467.84) scale(1.18,1)">60</text>
<line x1="231.8" y1="450.63" x2="234.8" y2="450.63" stroke="#1a1a1a" stroke-width="1.3"/>
<text class="yl" transform="translate(217.1,454.23) scale(1.18,1)">70</text>
<line x1="231.8" y1="437.02" x2="234.8" y2="437.02" stroke="#1a1a1a" stroke-width="1.3"/>
<text class="yl" transform="translate(217.1,440.62) scale(1.18,1)">80</text>
<line x1="231.8" y1="423.41" x2="234.8" y2="423.41" stroke="#1a1a1a" stroke-width="1.3"/>
<text class="yl" transform="translate(217.1,427.01) scale(1.18,1)">90</text>
<line x1="231.8" y1="409.8" x2="234.8" y2="409.8" stroke="#1a1a1a" stroke-width="1.3"/>
<text class="yl" transform="translate(218,413.4) scale(1.18,1)">100</text>
<text class="xl" transform="translate(239.4,555.7) scale(1,1.0)" textLength="38" lengthAdjust="spacingAndGlyphs">baseline</text>
<text class="xl" transform="translate(281.6,555.7) scale(1,1.0)" textLength="35.4" lengthAdjust="spacingAndGlyphs">4weeks</text>
<text class="xl" transform="translate(319.9,555.7) scale(1,1.0)" textLength="39.9" lengthAdjust="spacingAndGlyphs">12weeks</text>
<text class="xl" transform="translate(361.9,555.7) scale(1,1.0)" textLength="40.5" lengthAdjust="spacingAndGlyphs">24weeks</text>
<line x1="256" y1="409.8" x2="256" y2="545.9" class="ln"/>
<line x1="245.4" y1="409.8" x2="266.6" y2="409.8" class="ln"/>
<line x1="245.4" y1="545.9" x2="266.6" y2="545.9" class="ln"/>
<rect x="245.4" y="426.81" width="21.2" height="51.04" fill="#fff" class="ln"/>
<line x1="245.4" y1="460.84" x2="266.6" y2="460.84" class="ln"/>
<circle cx="251.4" cy="409.05" r="1.8"/>
<circle cx="254.1" cy="409.05" r="1.8"/>
<circle cx="256.8" cy="409.05" r="1.8"/>
<circle cx="253.4" cy="426.81" r="1.8"/>
<circle cx="256.2" cy="426.81" r="1.8"/>
<circle cx="258.9" cy="426.81" r="1.8"/>
<circle cx="248.7" cy="443.82" r="1.8"/>
<circle cx="251.4" cy="443.82" r="1.8"/>
<circle cx="254.1" cy="443.82" r="1.8"/>
<circle cx="256.8" cy="443.82" r="1.8"/>
<circle cx="258.9" cy="443.82" r="1.8"/>
<circle cx="252.1" cy="460.84" r="1.8"/>
<circle cx="254.8" cy="460.84" r="1.8"/>
<circle cx="257.5" cy="460.84" r="1.8"/>
<circle cx="251.4" cy="477.85" r="1.8"/>
<circle cx="254.1" cy="477.85" r="1.8"/>
<circle cx="256.2" cy="477.85" r="1.8"/>
<circle cx="258.9" cy="477.85" r="1.8"/>
<circle cx="255.2" cy="494.86" r="1.8"/>
<circle cx="255.7" cy="494.18" r="1.8"/>
<circle cx="254.1" cy="511.88" r="1.8"/>
<circle cx="255.8" cy="528.89" r="1.8"/>
<circle cx="254.1" cy="545.9" r="1.8"/>
<circle cx="259.3" cy="545.9" r="1.8"/>
<circle cx="252.75" cy="409.05" r="1.8"/>
<circle cx="255.45" cy="409.05" r="1.8"/>
<circle cx="254.8" cy="426.81" r="1.8"/>
<circle cx="257.55" cy="426.81" r="1.8"/>
<circle cx="250.05" cy="443.82" r="1.8"/>
<circle cx="252.75" cy="443.82" r="1.8"/>
<circle cx="255.45" cy="443.82" r="1.8"/>
<circle cx="257.85" cy="443.82" r="1.8"/>
<circle cx="253.45" cy="460.84" r="1.8"/>
<circle cx="256.15" cy="460.84" r="1.8"/>
<circle cx="252.75" cy="477.85" r="1.8"/>
<circle cx="255.15" cy="477.85" r="1.8"/>
<circle cx="257.55" cy="477.85" r="1.8"/>
<line x1="298.4" y1="409.8" x2="298.4" y2="528.89" class="ln"/>
<line x1="287.8" y1="409.8" x2="309" y2="409.8" class="ln"/>
<line x1="287.8" y1="528.89" x2="309" y2="528.89" class="ln"/>
<rect x="287.8" y="443.82" width="21.2" height="34.03" fill="#fff" class="ln"/>
<line x1="287.8" y1="443.82" x2="309" y2="443.82" class="ln"/>
<circle cx="297.1" cy="409.05" r="1.8"/>
<circle cx="299.8" cy="409.05" r="1.8"/>
<circle cx="301.2" cy="409.05" r="1.8"/>
<circle cx="294.4" cy="426.81" r="1.8"/>
<circle cx="297.1" cy="426.81" r="1.8"/>
<circle cx="300.5" cy="426.81" r="1.8"/>
<circle cx="295.7" cy="443.82" r="1.8"/>
<circle cx="298.4" cy="443.82" r="1.8"/>
<circle cx="301.2" cy="443.82" r="1.8"/>
<circle cx="293.7" cy="460.84" r="1.8"/>
<circle cx="296.4" cy="460.84" r="1.8"/>
<circle cx="299.8" cy="460.84" r="1.8"/>
<circle cx="295.1" cy="477.85" r="1.8"/>
<circle cx="297.1" cy="477.85" r="1.8"/>
<circle cx="300.5" cy="477.85" r="1.8"/>
<circle cx="295.1" cy="494.86" r="1.8"/>
<circle cx="298.4" cy="494.86" r="1.8"/>
<circle cx="292.6" cy="511.88" r="1.8"/>
<circle cx="298.1" cy="528.89" r="1.8"/>
<circle cx="299.2" cy="529.57" r="1.8"/>
<circle cx="298.45" cy="409.05" r="1.8"/>
<circle cx="300.5" cy="409.05" r="1.8"/>
<circle cx="295.75" cy="426.81" r="1.8"/>
<circle cx="298.8" cy="426.81" r="1.8"/>
<circle cx="297.05" cy="443.82" r="1.8"/>
<circle cx="299.8" cy="443.82" r="1.8"/>
<circle cx="295.05" cy="460.84" r="1.8"/>
<circle cx="298.1" cy="460.84" r="1.8"/>
<circle cx="296.1" cy="477.85" r="1.8"/>
<circle cx="298.8" cy="477.85" r="1.8"/>
<line x1="340.8" y1="409.8" x2="340.8" y2="494.86" class="ln"/>
<line x1="330.2" y1="409.8" x2="351.4" y2="409.8" class="ln"/>
<line x1="330.2" y1="494.86" x2="351.4" y2="494.86" class="ln"/>
<rect x="330.2" y="409.8" width="21.2" height="34.02" fill="#fff" class="ln"/>
<line x1="330.2" y1="443.82" x2="351.4" y2="443.82" class="ln"/>
<circle cx="339.4" cy="409.05" r="1.8"/>
<circle cx="341.5" cy="409.05" r="1.8"/>
<circle cx="343.5" cy="409.05" r="1.8"/>
<circle cx="346.3" cy="409.05" r="1.8"/>
<circle cx="336" cy="426.81" r="1.8"/>
<circle cx="338.1" cy="426.81" r="1.8"/>
<circle cx="340.1" cy="426.81" r="1.8"/>
<circle cx="342.8" cy="426.81" r="1.8"/>
<circle cx="336.7" cy="443.82" r="1.8"/>
<circle cx="338.8" cy="443.82" r="1.8"/>
<circle cx="341.5" cy="443.82" r="1.8"/>
<circle cx="343.5" cy="443.82" r="1.8"/>
<circle cx="339.4" cy="460.84" r="1.8"/>
<circle cx="340.8" cy="460.16" r="1.8"/>
<circle cx="342.6" cy="477.85" r="1.8"/>
<circle cx="342.2" cy="494.86" r="1.8"/>
<circle cx="340.45" cy="409.05" r="1.8"/>
<circle cx="342.5" cy="409.05" r="1.8"/>
<circle cx="344.9" cy="409.05" r="1.8"/>
<circle cx="337.05" cy="426.81" r="1.8"/>
<circle cx="339.1" cy="426.81" r="1.8"/>
<circle cx="341.45" cy="426.81" r="1.8"/>
<circle cx="337.75" cy="443.82" r="1.8"/>
<circle cx="340.15" cy="443.82" r="1.8"/>
<circle cx="342.5" cy="443.82" r="1.8"/>
<path d="M338.7 405.9L338.7 400.3M336.28 404.5L341.12 401.7M336.28 401.7L341.12 404.5" stroke="#4d4d4d" stroke-width="1.3" fill="none"/>
<line x1="383.2" y1="409.8" x2="383.2" y2="477.85" class="ln"/>
<line x1="372.6" y1="409.8" x2="393.8" y2="409.8" class="ln"/>
<line x1="372.6" y1="477.85" x2="393.8" y2="477.85" class="ln"/>
<rect x="372.6" y="409.8" width="21.2" height="51.04" fill="#fff" class="ln"/>
<line x1="372.6" y1="443.82" x2="393.8" y2="443.82" class="ln"/>
<circle cx="378.3" cy="409.05" r="1.8"/>
<circle cx="381.1" cy="409.05" r="1.8"/>
<circle cx="383.8" cy="409.05" r="1.8"/>
<circle cx="386.5" cy="409.05" r="1.8"/>
<circle cx="380.8" cy="426.81" r="1.8"/>
<circle cx="379" cy="443.82" r="1.8"/>
<circle cx="381.7" cy="443.82" r="1.8"/>
<circle cx="384.5" cy="443.82" r="1.8"/>
<circle cx="386.5" cy="443.82" r="1.8"/>
<circle cx="377" cy="460.84" r="1.8"/>
<circle cx="379" cy="460.16" r="1.8"/>
<circle cx="381.7" cy="460.16" r="1.8"/>
<circle cx="384.5" cy="460.16" r="1.8"/>
<circle cx="386.5" cy="460.84" r="1.8"/>
<circle cx="381.7" cy="477.85" r="1.8"/>
<circle cx="383.8" cy="477.85" r="1.8"/>
<circle cx="379.7" cy="409.05" r="1.8"/>
<circle cx="382.45" cy="409.05" r="1.8"/>
<circle cx="385.15" cy="409.05" r="1.8"/>
<circle cx="380.35" cy="443.82" r="1.8"/>
<circle cx="383.1" cy="443.82" r="1.8"/>
<circle cx="385.5" cy="443.82" r="1.8"/>
<circle cx="380.35" cy="460.16" r="1.8"/>
<circle cx="383.1" cy="460.16" r="1.8"/>
<path d="M380.8 405.7L380.8 400.1M378.38 404.3L383.22 401.5M378.38 401.5L383.22 404.3" stroke="#4d4d4d" stroke-width="1.3" fill="none"/>
<text x="481.8" y="393.5" font-size="15.4" font-weight="bold" textLength="32.3" lengthAdjust="spacingAndGlyphs">Role</text>
<text x="516.5" y="393.5" font-size="15.4" font-weight="bold" textLength="70" lengthAdjust="spacingAndGlyphs">emotional</text>
<rect x="432.1" y="397.1" width="170.1" height="148.8" fill="none" stroke="#3a3a3a" stroke-width="1.8"/>
<line x1="429.1" y1="545.9" x2="432.1" y2="545.9" stroke="#1a1a1a" stroke-width="1.3"/>
<text class="yl" transform="translate(416.7,549.5) scale(1.18,1)">0</text>
<line x1="429.1" y1="532.29" x2="432.1" y2="532.29" stroke="#1a1a1a" stroke-width="1.3"/>
<text class="yl" transform="translate(417.6,535.89) scale(1.18,1)">10</text>
<line x1="429.1" y1="518.68" x2="432.1" y2="518.68" stroke="#1a1a1a" stroke-width="1.3"/>
<text class="yl" transform="translate(417.6,522.28) scale(1.18,1)">20</text>
<line x1="429.1" y1="505.07" x2="432.1" y2="505.07" stroke="#1a1a1a" stroke-width="1.3"/>
<text class="yl" transform="translate(417.6,508.67) scale(1.18,1)">30</text>
<line x1="429.1" y1="491.46" x2="432.1" y2="491.46" stroke="#1a1a1a" stroke-width="1.3"/>
<text class="yl" transform="translate(417.6,495.06) scale(1.18,1)">40</text>
<line x1="429.1" y1="477.85" x2="432.1" y2="477.85" stroke="#1a1a1a" stroke-width="1.3"/>
<text class="yl" transform="translate(417.6,481.45) scale(1.18,1)">50</text>
<line x1="429.1" y1="464.24" x2="432.1" y2="464.24" stroke="#1a1a1a" stroke-width="1.3"/>
<text class="yl" transform="translate(417.6,467.84) scale(1.18,1)">60</text>
<line x1="429.1" y1="450.63" x2="432.1" y2="450.63" stroke="#1a1a1a" stroke-width="1.3"/>
<text class="yl" transform="translate(417.6,454.23) scale(1.18,1)">70</text>
<line x1="429.1" y1="437.02" x2="432.1" y2="437.02" stroke="#1a1a1a" stroke-width="1.3"/>
<text class="yl" transform="translate(417.6,440.62) scale(1.18,1)">80</text>
<line x1="429.1" y1="423.41" x2="432.1" y2="423.41" stroke="#1a1a1a" stroke-width="1.3"/>
<text class="yl" transform="translate(417.6,427.01) scale(1.18,1)">90</text>
<line x1="429.1" y1="409.8" x2="432.1" y2="409.8" stroke="#1a1a1a" stroke-width="1.3"/>
<text class="yl" transform="translate(418.5,413.4) scale(1.18,1)">100</text>
<text class="xl" transform="translate(435.2,554.3) scale(1,1.0)" textLength="38" lengthAdjust="spacingAndGlyphs">baseline</text>
<text class="xl" transform="translate(476.7,554.3) scale(1,1.0)" textLength="36" lengthAdjust="spacingAndGlyphs">4weeks</text>
<text class="xl" transform="translate(515.1,554.3) scale(1,1.0)" textLength="40.2" lengthAdjust="spacingAndGlyphs">12weeks</text>
<text class="xl" transform="translate(557.9,554.3) scale(1,1.0)" textLength="40.3" lengthAdjust="spacingAndGlyphs">24weeks</text>
<line x1="453.36" y1="409.8" x2="453.36" y2="545.9" class="ln"/>
<line x1="442.73" y1="409.8" x2="463.99" y2="409.8" class="ln"/>
<line x1="442.73" y1="545.9" x2="463.99" y2="545.9" class="ln"/>
<rect x="442.73" y="409.8" width="21.26" height="79.39" fill="#fff" class="ln"/>
<line x1="442.73" y1="466.51" x2="463.99" y2="466.51" class="ln"/>
<circle cx="449.16" cy="409.05" r="1.8"/>
<circle cx="451.26" cy="409.05" r="1.8"/>
<circle cx="453.26" cy="409.05" r="1.8"/>
<circle cx="455.36" cy="409.05" r="1.8"/>
<circle cx="456.76" cy="409.05" r="1.8"/>
<circle cx="451.86" cy="421.14" r="1.8"/>
<circle cx="453.96" cy="420.01" r="1.8"/>
<circle cx="450.96" cy="432.49" r="1.8"/>
<circle cx="451.86" cy="443.82" r="1.8"/>
<circle cx="456.36" cy="443.82" r="1.8"/>
<circle cx="451.86" cy="466.51" r="1.8"/>
<circle cx="454.26" cy="466.51" r="1.8"/>
<circle cx="456.36" cy="466.51" r="1.8"/>
<circle cx="449.86" cy="477.85" r="1.8"/>
<circle cx="451.86" cy="477.85" r="1.8"/>
<circle cx="453.96" cy="477.85" r="1.8"/>
<circle cx="456.66" cy="477.85" r="1.8"/>
<circle cx="454.66" cy="489.19" r="1.8"/>
<circle cx="451.86" cy="500.54" r="1.8"/>
<circle cx="452.56" cy="511.88" r="1.8"/>
<circle cx="455.56" cy="511.88" r="1.8"/>
<circle cx="455.56" cy="534.56" r="1.8"/>
<circle cx="447.76" cy="545.9" r="1.8"/>
<circle cx="449.86" cy="545.9" r="1.8"/>
<circle cx="452.56" cy="545.9" r="1.8"/>
<circle cx="450.21" cy="409.05" r="1.8"/>
<circle cx="452.26" cy="409.05" r="1.8"/>
<circle cx="454.31" cy="409.05" r="1.8"/>
<circle cx="456.06" cy="409.05" r="1.8"/>
<circle cx="453.06" cy="466.51" r="1.8"/>
<circle cx="455.31" cy="466.51" r="1.8"/>
<circle cx="450.86" cy="477.85" r="1.8"/>
<circle cx="452.91" cy="477.85" r="1.8"/>
<circle cx="455.31" cy="477.85" r="1.8"/>
<circle cx="448.81" cy="545.9" r="1.8"/>
<circle cx="451.21" cy="545.9" r="1.8"/>
<line x1="495.89" y1="409.8" x2="495.89" y2="545.9" class="ln"/>
<line x1="485.26" y1="409.8" x2="506.52" y2="409.8" class="ln"/>
<line x1="485.26" y1="545.9" x2="506.52" y2="545.9" class="ln"/>
<rect x="485.26" y="409.8" width="21.26" height="68.05" fill="#fff" class="ln"/>
<line x1="485.26" y1="443.82" x2="506.52" y2="443.82" class="ln"/>
<circle cx="494.89" cy="409.05" r="1.8"/>
<circle cx="496.99" cy="409.05" r="1.8"/>
<circle cx="494.89" cy="421.14" r="1.8"/>
<circle cx="496.99" cy="420.01" r="1.8"/>
<circle cx="498.39" cy="432.49" r="1.8"/>
<circle cx="492.89" cy="443.82" r="1.8"/>
<circle cx="494.89" cy="443.82" r="1.8"/>
<circle cx="496.99" cy="443.82" r="1.8"/>
<circle cx="499.69" cy="443.82" r="1.8"/>
<circle cx="494.89" cy="455.16" r="1.8"/>
<circle cx="498.99" cy="454.71" r="1.8"/>
<circle cx="497.69" cy="466.51" r="1.8"/>
<circle cx="492.19" cy="477.85" r="1.8"/>
<circle cx="494.89" cy="477.85" r="1.8"/>
<circle cx="496.99" cy="511.88" r="1.8"/>
<circle cx="494.89" cy="523.21" r="1.8"/>
<circle cx="497.89" cy="534.56" r="1.8"/>
<circle cx="494.89" cy="545.9" r="1.8"/>
<circle cx="493.89" cy="443.82" r="1.8"/>
<circle cx="495.94" cy="443.82" r="1.8"/>
<circle cx="498.34" cy="443.82" r="1.8"/>
<line x1="538.41" y1="409.8" x2="538.41" y2="477.85" class="ln"/>
<line x1="527.78" y1="409.8" x2="549.04" y2="409.8" class="ln"/>
<line x1="527.78" y1="477.85" x2="549.04" y2="477.85" class="ln"/>
<rect x="527.78" y="409.8" width="21.26" height="34.02" fill="#fff" class="ln"/>
<line x1="527.78" y1="443.82" x2="549.04" y2="443.82" class="ln"/>
<circle cx="533.21" cy="409.05" r="1.8"/>
<circle cx="535.91" cy="409.05" r="1.8"/>
<circle cx="538.61" cy="409.05" r="1.8"/>
<circle cx="541.41" cy="409.05" r="1.8"/>
<circle cx="543.41" cy="409.05" r="1.8"/>
<circle cx="540.71" cy="432.49" r="1.8"/>
<circle cx="535.21" cy="443.82" r="1.8"/>
<circle cx="537.91" cy="443.82" r="1.8"/>
<circle cx="540.71" cy="443.82" r="1.8"/>
<circle cx="542.01" cy="443.82" r="1.8"/>
<circle cx="534.51" cy="455.16" r="1.8"/>
<circle cx="537.91" cy="466.51" r="1.8"/>
<circle cx="541.31" cy="466.15" r="1.8"/>
<circle cx="537.01" cy="477.85" r="1.8"/>
<circle cx="537.31" cy="511.88" r="1.8"/>
<circle cx="538.91" cy="511.88" r="1.8"/>
<circle cx="534.56" cy="409.05" r="1.8"/>
<circle cx="537.26" cy="409.05" r="1.8"/>
<circle cx="540.01" cy="409.05" r="1.8"/>
<circle cx="542.41" cy="409.05" r="1.8"/>
<circle cx="536.56" cy="443.82" r="1.8"/>
<circle cx="539.31" cy="443.82" r="1.8"/>
<circle cx="541.36" cy="443.82" r="1.8"/>
<path d="M537.1 405.9L537.1 400.3M534.68 404.5L539.52 401.7M534.68 401.7L539.52 404.5" stroke="#4d4d4d" stroke-width="1.3" fill="none"/>
<line x1="580.94" y1="409.8" x2="580.94" y2="477.85" class="ln"/>
<line x1="570.31" y1="409.8" x2="591.57" y2="409.8" class="ln"/>
<line x1="570.31" y1="477.85" x2="591.57" y2="477.85" class="ln"/>
<rect x="570.31" y="409.8" width="21.26" height="34.02" fill="#fff" class="ln"/>
<line x1="570.31" y1="432.49" x2="591.57" y2="432.49" class="ln"/>
<circle cx="577.54" cy="409.05" r="1.8"/>
<circle cx="579.64" cy="409.05" r="1.8"/>
<circle cx="581.64" cy="409.05" r="1.8"/>
<circle cx="583.74" cy="409.05" r="1.8"/>
<circle cx="578.24" cy="421.14" r="1.8"/>
<circle cx="580.34" cy="432.49" r="1.8"/>
<circle cx="581.24" cy="432.94" r="1.8"/>
<circle cx="578.94" cy="443.82" r="1.8"/>
<circle cx="580.94" cy="443.82" r="1.8"/>
<circle cx="583.04" cy="443.82" r="1.8"/>
<circle cx="579.64" cy="455.16" r="1.8"/>
<circle cx="583.44" cy="455.16" r="1.8"/>
<circle cx="579.64" cy="466.51" r="1.8"/>
<circle cx="580.34" cy="477.85" r="1.8"/>
<circle cx="582.04" cy="477.85" r="1.8"/>
<circle cx="578.59" cy="409.05" r="1.8"/>
<circle cx="580.64" cy="409.05" r="1.8"/>
<circle cx="582.69" cy="409.05" r="1.8"/>
<circle cx="579.94" cy="443.82" r="1.8"/>
<circle cx="581.99" cy="443.82" r="1.8"/>
<path d="M578.7 405.9L578.7 400.3M576.28 404.5L581.12 401.7M576.28 401.7L581.12 404.5" stroke="#4d4d4d" stroke-width="1.3" fill="none"/>
<text x="680.3" y="393.8" font-size="15.4" font-weight="bold" textLength="47.5" lengthAdjust="spacingAndGlyphs">Mental</text>
<text x="729.9" y="393.8" font-size="15.4" font-weight="bold" textLength="44" lengthAdjust="spacingAndGlyphs">health</text>
<rect x="639.5" y="397.1" width="170" height="148.8" fill="none" stroke="#3a3a3a" stroke-width="1.8"/>
<line x1="636.5" y1="545.9" x2="639.5" y2="545.9" stroke="#1a1a1a" stroke-width="1.3"/>
<text class="yl" transform="translate(623.7,549.5) scale(1.18,1)">0</text>
<line x1="636.5" y1="532.29" x2="639.5" y2="532.29" stroke="#1a1a1a" stroke-width="1.3"/>
<text class="yl" transform="translate(624.6,535.89) scale(1.18,1)">10</text>
<line x1="636.5" y1="518.68" x2="639.5" y2="518.68" stroke="#1a1a1a" stroke-width="1.3"/>
<text class="yl" transform="translate(624.6,522.28) scale(1.18,1)">20</text>
<line x1="636.5" y1="505.07" x2="639.5" y2="505.07" stroke="#1a1a1a" stroke-width="1.3"/>
<text class="yl" transform="translate(624.6,508.67) scale(1.18,1)">30</text>
<line x1="636.5" y1="491.46" x2="639.5" y2="491.46" stroke="#1a1a1a" stroke-width="1.3"/>
<text class="yl" transform="translate(624.6,495.06) scale(1.18,1)">40</text>
<line x1="636.5" y1="477.85" x2="639.5" y2="477.85" stroke="#1a1a1a" stroke-width="1.3"/>
<text class="yl" transform="translate(624.6,481.45) scale(1.18,1)">50</text>
<line x1="636.5" y1="464.24" x2="639.5" y2="464.24" stroke="#1a1a1a" stroke-width="1.3"/>
<text class="yl" transform="translate(624.6,467.84) scale(1.18,1)">60</text>
<line x1="636.5" y1="450.63" x2="639.5" y2="450.63" stroke="#1a1a1a" stroke-width="1.3"/>
<text class="yl" transform="translate(624.6,454.23) scale(1.18,1)">70</text>
<line x1="636.5" y1="437.02" x2="639.5" y2="437.02" stroke="#1a1a1a" stroke-width="1.3"/>
<text class="yl" transform="translate(624.6,440.62) scale(1.18,1)">80</text>
<line x1="636.5" y1="423.41" x2="639.5" y2="423.41" stroke="#1a1a1a" stroke-width="1.3"/>
<text class="yl" transform="translate(624.6,427.01) scale(1.18,1)">90</text>
<line x1="636.5" y1="409.8" x2="639.5" y2="409.8" stroke="#1a1a1a" stroke-width="1.3"/>
<text class="yl" transform="translate(625.5,413.4) scale(1.18,1)">100</text>
<text class="xl" transform="translate(641.9,555.8) scale(1,1.0)" textLength="38.3" lengthAdjust="spacingAndGlyphs">baseline</text>
<text class="xl" transform="translate(684.8,555.8) scale(1,1.0)" textLength="35.4" lengthAdjust="spacingAndGlyphs">4weeks</text>
<text class="xl" transform="translate(722.5,555.8) scale(1,1.0)" textLength="40.3" lengthAdjust="spacingAndGlyphs">12weeks</text>
<text class="xl" transform="translate(764.7,555.8) scale(1,1.0)" textLength="40.2" lengthAdjust="spacingAndGlyphs">24weeks</text>
<line x1="660.75" y1="409.8" x2="660.75" y2="532.29" class="ln"/>
<line x1="650.12" y1="409.8" x2="671.38" y2="409.8" class="ln"/>
<line x1="650.12" y1="532.29" x2="671.38" y2="532.29" class="ln"/>
<rect x="650.12" y="450.63" width="21.25" height="34.02" fill="#fff" class="ln"/>
<line x1="650.12" y1="464.24" x2="671.38" y2="464.24" class="ln"/>
<circle cx="660.15" cy="409.05" r="1.8"/>
<circle cx="654.75" cy="423.41" r="1.8"/>
<circle cx="657.45" cy="423.41" r="1.8"/>
<circle cx="659.45" cy="423.41" r="1.8"/>
<circle cx="659.45" cy="430.22" r="1.8"/>
<circle cx="660.55" cy="430.22" r="1.8"/>
<circle cx="657.45" cy="437.02" r="1.8"/>
<circle cx="659.25" cy="443.82" r="1.8"/>
<circle cx="657.45" cy="450.63" r="1.8"/>
<circle cx="660.15" cy="450.63" r="1.8"/>
<circle cx="662.25" cy="450.63" r="1.8"/>
<circle cx="656.75" cy="457.44" r="1.8"/>
<circle cx="656.75" cy="464.24" r="1.8"/>
<circle cx="658.85" cy="464.24" r="1.8"/>
<circle cx="660.85" cy="464.24" r="1.8"/>
<circle cx="656.75" cy="471.04" r="1.8"/>
<circle cx="659.45" cy="471.04" r="1.8"/>
<circle cx="662.85" cy="471.04" r="1.8"/>
<circle cx="657.45" cy="477.85" r="1.8"/>
<circle cx="659.45" cy="477.85" r="1.8"/>
<circle cx="658.85" cy="484.65" r="1.8"/>
<circle cx="660.85" cy="484.65" r="1.8"/>
<circle cx="662.45" cy="491.46" r="1.8"/>
<circle cx="664.65" cy="498.26" r="1.8"/>
<circle cx="656.05" cy="505.07" r="1.8"/>
<circle cx="660.15" cy="505.07" r="1.8"/>
<circle cx="664.65" cy="511.88" r="1.8"/>
<circle cx="656.75" cy="532.29" r="1.8"/>
<circle cx="659.75" cy="545.9" r="1.8"/>
<circle cx="656.1" cy="423.41" r="1.8"/>
<circle cx="658.45" cy="423.41" r="1.8"/>
<circle cx="658.8" cy="450.63" r="1.8"/>
<circle cx="661.2" cy="450.63" r="1.8"/>
<circle cx="657.8" cy="464.24" r="1.8"/>
<circle cx="659.85" cy="464.24" r="1.8"/>
<circle cx="658.1" cy="471.04" r="1.8"/>
<circle cx="661.15" cy="471.04" r="1.8"/>
<line x1="703.25" y1="409.8" x2="703.25" y2="511.88" class="ln"/>
<line x1="692.62" y1="409.8" x2="713.88" y2="409.8" class="ln"/>
<line x1="692.62" y1="511.88" x2="713.88" y2="511.88" class="ln"/>
<rect x="692.62" y="430.22" width="21.25" height="47.63" fill="#fff" class="ln"/>
<line x1="692.62" y1="450.63" x2="713.88" y2="450.63" class="ln"/>
<circle cx="703.45" cy="409.05" r="1.8"/>
<circle cx="701.15" cy="416.61" r="1.8"/>
<circle cx="704.55" cy="416.61" r="1.8"/>
<circle cx="699.05" cy="423.41" r="1.8"/>
<circle cx="703.15" cy="423.41" r="1.8"/>
<circle cx="702.05" cy="430.22" r="1.8"/>
<circle cx="699.75" cy="437.02" r="1.8"/>
<circle cx="702.45" cy="437.02" r="1.8"/>
<circle cx="705.25" cy="437.02" r="1.8"/>
<circle cx="698.35" cy="443.82" r="1.8"/>
<circle cx="701.15" cy="443.82" r="1.8"/>
<circle cx="703.85" cy="443.82" r="1.8"/>
<circle cx="706.55" cy="443.82" r="1.8"/>
<circle cx="699.75" cy="450.63" r="1.8"/>
<circle cx="702.45" cy="450.63" r="1.8"/>
<circle cx="698.35" cy="457.44" r="1.8"/>
<circle cx="702.45" cy="464.24" r="1.8"/>
<circle cx="705.25" cy="464.24" r="1.8"/>
<circle cx="701.15" cy="471.04" r="1.8"/>
<circle cx="704.55" cy="471.04" r="1.8"/>
<circle cx="699.05" cy="477.85" r="1.8"/>
<circle cx="701.75" cy="477.85" r="1.8"/>
<circle cx="706.55" cy="477.85" r="1.8"/>
<circle cx="704.25" cy="484.65" r="1.8"/>
<circle cx="708.65" cy="484.65" r="1.8"/>
<circle cx="704.25" cy="505.07" r="1.8"/>
<circle cx="702.85" cy="511.88" r="1.8"/>
<circle cx="701.1" cy="437.02" r="1.8"/>
<circle cx="703.85" cy="437.02" r="1.8"/>
<circle cx="699.75" cy="443.82" r="1.8"/>
<circle cx="702.5" cy="443.82" r="1.8"/>
<circle cx="705.2" cy="443.82" r="1.8"/>
<circle cx="700.4" cy="477.85" r="1.8"/>
<path d="M701.1 405.9L701.1 400.3M698.68 404.5L703.52 401.7M698.68 401.7L703.52 404.5" stroke="#4d4d4d" stroke-width="1.3" fill="none"/>
<line x1="745.75" y1="409.8" x2="745.75" y2="498.26" class="ln"/>
<line x1="735.12" y1="409.8" x2="756.38" y2="409.8" class="ln"/>
<line x1="735.12" y1="498.26" x2="756.38" y2="498.26" class="ln"/>
<rect x="735.12" y="423.41" width="21.25" height="34.03" fill="#fff" class="ln"/>
<line x1="735.12" y1="437.02" x2="756.38" y2="437.02" class="ln"/>
<circle cx="747.55" cy="409.05" r="1.8"/>
<circle cx="748.45" cy="410.48" r="1.8"/>
<circle cx="746.55" cy="416.61" r="1.8"/>
<circle cx="744.15" cy="423.41" r="1.8"/>
<circle cx="746.85" cy="423.41" r="1.8"/>
<circle cx="743.45" cy="430.22" r="1.8"/>
<circle cx="745.45" cy="430.22" r="1.8"/>
<circle cx="747.15" cy="430.22" r="1.8"/>
<circle cx="740.05" cy="437.02" r="1.8"/>
<circle cx="744.15" cy="437.02" r="1.8"/>
<circle cx="746.85" cy="437.02" r="1.8"/>
<circle cx="742.75" cy="443.82" r="1.8"/>
<circle cx="745.45" cy="443.82" r="1.8"/>
<circle cx="748.85" cy="450.63" r="1.8"/>
<circle cx="744.75" cy="457.44" r="1.8"/>
<circle cx="746.85" cy="457.44" r="1.8"/>
<circle cx="744.15" cy="464.24" r="1.8"/>
<circle cx="747.55" cy="464.24" r="1.8"/>
<circle cx="743.45" cy="471.04" r="1.8"/>
<circle cx="744.15" cy="477.85" r="1.8"/>
<circle cx="746.15" cy="484.65" r="1.8"/>
<circle cx="744.15" cy="491.46" r="1.8"/>
<circle cx="745.25" cy="498.26" r="1.8"/>
<circle cx="744.45" cy="430.22" r="1.8"/>
<circle cx="746.3" cy="430.22" r="1.8"/>
<circle cx="745.5" cy="437.02" r="1.8"/>
<path d="M744.1 405.9L744.1 400.3M741.68 404.5L746.52 401.7M741.68 401.7L746.52 404.5" stroke="#4d4d4d" stroke-width="1.3" fill="none"/>
<line x1="788.25" y1="409.8" x2="788.25" y2="477.85" class="ln"/>
<line x1="777.62" y1="409.8" x2="798.88" y2="409.8" class="ln"/>
<line x1="777.62" y1="477.85" x2="798.88" y2="477.85" class="ln"/>
<rect x="777.62" y="423.41" width="21.25" height="34.03" fill="#fff" class="ln"/>
<line x1="777.62" y1="443.82" x2="798.88" y2="443.82" class="ln"/>
<circle cx="788.45" cy="409.05" r="1.8"/>
<circle cx="785.05" cy="423.41" r="1.8"/>
<circle cx="787.75" cy="423.41" r="1.8"/>
<circle cx="790.55" cy="423.41" r="1.8"/>
<circle cx="783.65" cy="430.22" r="1.8"/>
<circle cx="786.45" cy="430.22" r="1.8"/>
<circle cx="791.15" cy="430.22" r="1.8"/>
<circle cx="787.75" cy="437.02" r="1.8"/>
<circle cx="786.45" cy="443.82" r="1.8"/>
<circle cx="788.85" cy="443.82" r="1.8"/>
<circle cx="783.65" cy="450.63" r="1.8"/>
<circle cx="786.45" cy="450.63" r="1.8"/>
<circle cx="788.85" cy="450.63" r="1.8"/>
<circle cx="785.05" cy="457.44" r="1.8"/>
<circle cx="787.75" cy="457.44" r="1.8"/>
<circle cx="790.55" cy="457.44" r="1.8"/>
<circle cx="786.45" cy="464.24" r="1.8"/>
<circle cx="785.75" cy="471.04" r="1.8"/>
<circle cx="788.45" cy="471.04" r="1.8"/>
<circle cx="787.15" cy="477.85" r="1.8"/>
<circle cx="786.4" cy="423.41" r="1.8"/>
<circle cx="789.15" cy="423.41" r="1.8"/>
<circle cx="785.05" cy="430.22" r="1.8"/>
<circle cx="785.05" cy="450.63" r="1.8"/>
<circle cx="787.65" cy="450.63" r="1.8"/>
<circle cx="786.4" cy="457.44" r="1.8"/>
<circle cx="789.15" cy="457.44" r="1.8"/>
<path d="M786.2 405.9L786.2 400.3M783.78 404.5L788.62 401.7M783.78 401.7L788.62 404.5" stroke="#4d4d4d" stroke-width="1.3" fill="none"/>
<text x="691.2" y="160.6" font-size="14.6">*</text>
<text x="711.3" y="160.8" font-size="14.3" textLength="51.8" lengthAdjust="spacingAndGlyphs">P &lt; 0.05</text>
</svg>
</body></html>
